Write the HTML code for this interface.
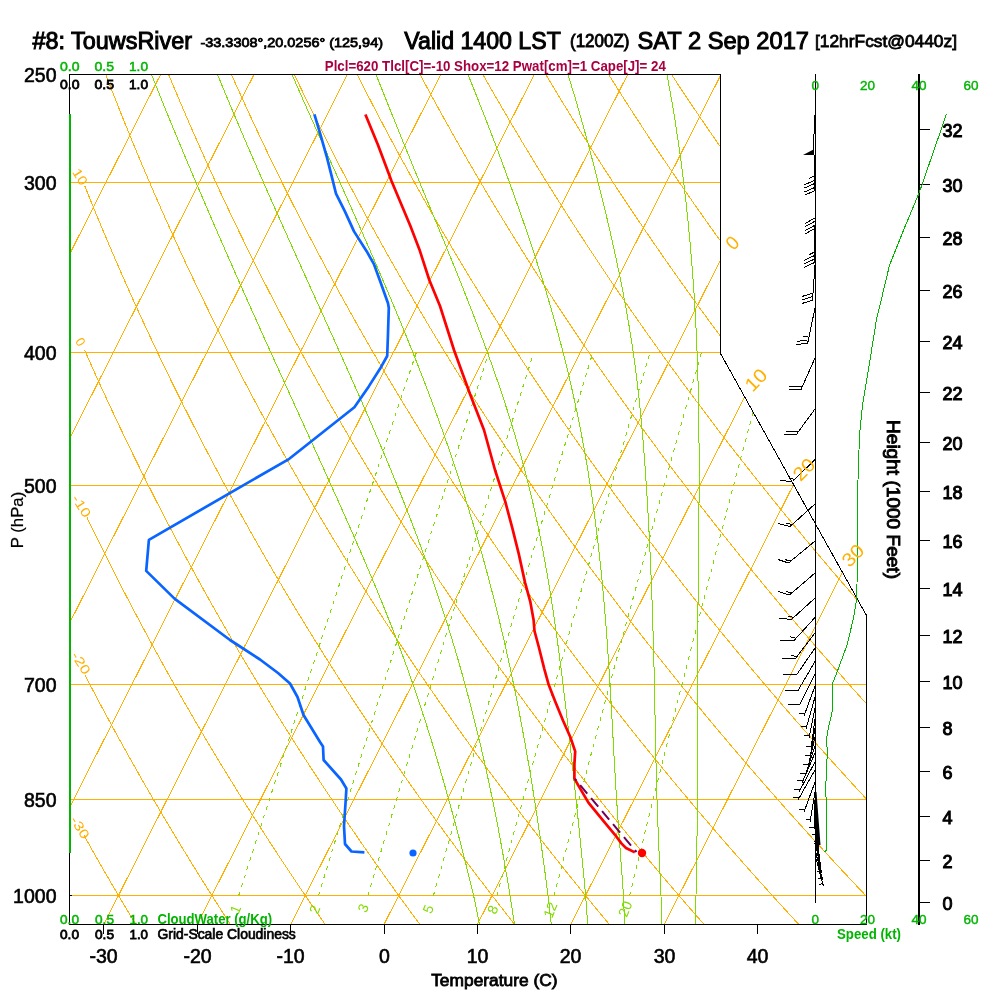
<!DOCTYPE html>
<html><head><meta charset="utf-8"><style>
html,body{margin:0;padding:0;background:#fff;}
body{width:1000px;height:1000px;overflow:hidden;position:relative;}
svg{position:absolute;left:0;top:0;will-change:transform;}
</style></head><body>
<svg width="1000" height="1000" viewBox="0 0 1000 1000" font-family="&quot;Liberation Sans&quot;, sans-serif">
<defs><clipPath id="cp"><path d="M70,75 H720 V353.5 L866,615.5 V924 H70 Z"/></clipPath></defs>
<g clip-path="url(#cp)" fill="none" stroke-width="1" shape-rendering="crispEdges">
<path d="M70,182.5 H870" stroke="#FFB000"/>
<path d="M70,352.5 H870" stroke="#FFB000"/>
<path d="M70,485.5 H870" stroke="#FFB000"/>
<path d="M70,684.5 H870" stroke="#FFB000"/>
<path d="M70,799.5 H870" stroke="#FFB000"/>
<path d="M70,895.5 H870" stroke="#FFB000"/>
<path d="M-736.86,924.5 L-306.42,74.5" stroke="#FFB000"/>
<path d="M-643.46,924.5 L-213.02,74.5" stroke="#FFB000"/>
<path d="M-550.05,924.5 L-119.61,74.5" stroke="#FFB000"/>
<path d="M-456.65,924.5 L-26.21,74.5" stroke="#FFB000"/>
<path d="M-363.24,924.5 L67.2,74.5" stroke="#FFB000"/>
<path d="M-269.84,924.5 L160.6,74.5" stroke="#FFB000"/>
<path d="M-176.43,924.5 L254.01,74.5" stroke="#FFB000"/>
<path d="M-83.03,924.5 L347.41,74.5" stroke="#FFB000"/>
<path d="M10.38,924.5 L440.82,74.5" stroke="#FFB000"/>
<path d="M103.78,924.5 L534.22,74.5" stroke="#FFB000"/>
<path d="M197.19,924.5 L627.63,74.5" stroke="#FFB000"/>
<path d="M290.6,924.5 L721.03,74.5" stroke="#FFB000"/>
<path d="M384,924.5 L814.44,74.5" stroke="#FFB000"/>
<path d="M477.4,924.5 L907.84,74.5" stroke="#FFB000"/>
<path d="M570.81,924.5 L1001.25,74.5" stroke="#FFB000"/>
<path d="M664.22,924.5 L1094.65,74.5" stroke="#FFB000"/>
<path d="M44.15,930.01 L42.57,927.21 L41,924.4 L39.42,921.57 L37.84,918.73 L36.26,915.88 L34.67,913.01 L33.08,910.13 L31.48,907.23 L29.88,904.32 L28.28,901.4 L26.67,898.46 L25.06,895.51 L23.45,892.54 L21.83,889.55 L20.21,886.55 L18.59,883.54 L16.96,880.51 L15.33,877.47 L13.69,874.41 L12.05,871.33 L10.41,868.24 L8.77,865.13 L7.11,862 L5.46,858.86 L3.8,855.7 L2.14,852.53 L0.47,849.33 L-1.2,846.12 L-2.87,842.9 L-4.55,839.65 L-6.23,836.39 L-7.92,833.11 L-9.61,829.81 L-11.3,826.49 L-13,823.15 L-14.7,819.8 L-16.41,816.42 L-18.12,813.03 L-19.83,809.62 L-21.55,806.18 L-23.27,802.73 L-25,799.26 L-26.73,795.76 L-28.47,792.25 L-30.21,788.71 L-31.95,785.16 L-33.7,781.58 L-35.46,777.98 L-37.22,774.35 L-38.98,770.71 L-40.75,767.04 L-42.52,763.35 L-44.29,759.64 L-46.07,755.9 L-47.86,752.14 L-49.65,748.36 L-51.45,744.55 L-53.25,740.72 L-55.05,736.86 L-56.86,732.98 L-58.67,729.07 L-60.49,725.13 L-62.31,721.17 L-64.14,717.18 L-65.98,713.17 L-67.82,709.12 L-69.66,705.05 L-71.51,700.96 L-73.36,696.83 L-75.22,692.67 L-77.08,688.49 L-78.95,684.27 L-80.83,680.03 L-82.71,675.75 L-84.59,671.44 L-86.48,667.1 L-88.37,662.73 L-90.27,658.33 L-92.18,653.89 L-94.09,649.42 L-96.01,644.92 L-97.93,640.38 L-99.86,635.81 L-101.79,631.2 L-103.73,626.56 L-105.67,621.87 L-107.62,617.15 L-109.58,612.4 L-111.54,607.6 L-113.51,602.77 L-115.48,597.89 L-117.46,592.98 L-119.44,588.02 L-121.43,583.03 L-123.43,577.98 L-125.43,572.9 L-127.44,567.77 L-129.45,562.6 L-131.48,557.38 L-133.5,552.12 L-135.53,546.81 L-137.57,541.45 L-139.62,536.04 L-141.67,530.58 L-143.73,525.07 L-145.79,519.51 L-147.86,513.9 L-149.93,508.23 L-152.02,502.51 L-154.11,496.73 L-156.2,490.9 L-158.3,485 L-160.41,479.05 L-162.53,473.04 L-164.65,466.96 L-166.78,460.83 L-168.91,454.63 L-171.05,448.36 L-173.2,442.02 L-175.35,435.62 L-177.51,429.15 L-179.68,422.6 L-181.85,415.99 L-184.03,409.3 L-186.22,402.53 L-188.42,395.68 L-190.62,388.75 L-192.82,381.75 L-195.04,374.65 L-197.26,367.47 L-199.49,360.21 L-201.72,352.85 L-203.96,345.4 L-206.21,337.86 L-208.46,330.21 L-210.72,322.47 L-212.99,314.63 L-215.26,306.68 L-217.54,298.62 L-219.82,290.45 L-222.12,282.17 L-224.41,273.77 L-226.72,265.25 L-229.03,256.6 L-231.34,247.83 L-233.66,238.92 L-235.99,229.88 L-238.32,220.7 L-240.66,211.37 L-243,201.9 L-245.35,192.27 L-247.7,182.48 L-250.05,172.52 L-252.41,162.4 L-254.77,152.1 L-257.14,141.62 L-259.51,130.95 L-261.88,120.08 L-264.25,109.01 L-266.63,97.73 L-269,86.23 L-271.38,74.5 L-273.76,62.54" stroke="#FFB000"/>
<path d="M139.12,930.01 L137.42,927.21 L135.72,924.4 L134.01,921.57 L132.3,918.73 L130.58,915.88 L128.86,913.01 L127.14,910.13 L125.41,907.23 L123.68,904.32 L121.95,901.4 L120.21,898.46 L118.47,895.51 L116.72,892.54 L114.97,889.55 L113.22,886.55 L111.46,883.54 L109.69,880.51 L107.92,877.47 L106.15,874.41 L104.38,871.33 L102.6,868.24 L100.81,865.13 L99.02,862 L97.23,858.86 L95.43,855.7 L93.63,852.53 L91.82,849.33 L90.01,846.12 L88.19,842.9 L86.37,839.65 L84.55,836.39 L84.11,835.6" stroke="#FFB000"/>
<path d="M234.09,930.01 L232.26,927.21 L230.43,924.4 L228.6,921.57 L226.76,918.73 L224.91,915.88 L223.06,913.01 L221.21,910.13 L219.35,907.23 L217.49,904.32 L215.62,901.4 L213.75,898.46 L211.87,895.51 L209.99,892.54 L208.11,889.55 L206.22,886.55 L204.32,883.54 L202.42,880.51 L200.52,877.47 L198.61,874.41 L196.7,871.33 L194.78,868.24 L192.86,865.13 L190.93,862 L189,858.86 L187.06,855.7 L185.12,852.53 L183.17,849.33 L181.22,846.12 L179.26,842.9 L177.3,839.65 L175.33,836.39 L173.36,833.11 L171.38,829.81 L169.39,826.49 L167.4,823.15 L165.41,819.8 L163.41,816.42 L161.41,813.03 L159.4,809.62 L157.38,806.18 L155.36,802.73 L153.33,799.26 L151.3,795.76 L149.26,792.25 L147.22,788.71 L145.17,785.16 L143.12,781.58 L141.06,777.98 L138.99,774.35 L136.92,770.71 L134.84,767.04 L132.75,763.35 L130.66,759.64 L128.57,755.9 L126.47,752.14 L124.36,748.36 L122.24,744.55 L120.12,740.72 L118,736.86 L115.86,732.98 L113.72,729.07 L111.58,725.13 L109.43,721.17 L107.27,717.18 L105.1,713.17 L102.93,709.12 L100.75,705.05 L98.57,700.96 L96.38,696.83 L94.18,692.67 L91.97,688.49 L89.76,684.27 L87.54,680.03 L85.31,675.75 L84.92,675" stroke="#FFB000"/>
<path d="M329.06,930.01 L327.11,927.21 L325.15,924.4 L323.18,921.57 L321.21,918.73 L319.24,915.88 L317.26,913.01 L315.27,910.13 L313.28,907.23 L311.29,904.32 L309.29,901.4 L307.29,898.46 L305.28,895.51 L303.26,892.54 L301.24,889.55 L299.22,886.55 L297.19,883.54 L295.16,880.51 L293.12,877.47 L291.07,874.41 L289.02,871.33 L286.96,868.24 L284.9,865.13 L282.84,862 L280.77,858.86 L278.69,855.7 L276.61,852.53 L274.52,849.33 L272.42,846.12 L270.32,842.9 L268.22,839.65 L266.11,836.39 L263.99,833.11 L261.87,829.81 L259.74,826.49 L257.61,823.15 L255.47,819.8 L253.32,816.42 L251.17,813.03 L249.01,809.62 L246.85,806.18 L244.68,802.73 L242.5,799.26 L240.32,795.76 L238.13,792.25 L235.93,788.71 L233.73,785.16 L231.53,781.58 L229.31,777.98 L227.09,774.35 L224.86,770.71 L222.63,767.04 L220.39,763.35 L218.14,759.64 L215.89,755.9 L213.63,752.14 L211.36,748.36 L209.09,744.55 L206.81,740.72 L204.52,736.86 L202.22,732.98 L199.92,729.07 L197.61,725.13 L195.3,721.17 L192.97,717.18 L190.64,713.17 L188.3,709.12 L185.96,705.05 L183.6,700.96 L181.24,696.83 L178.88,692.67 L176.5,688.49 L174.12,684.27 L171.72,680.03 L169.32,675.75 L166.92,671.44 L164.5,667.1 L162.08,662.73 L159.65,658.33 L157.21,653.89 L154.76,649.42 L152.3,644.92 L149.84,640.38 L147.36,635.81 L144.88,631.2 L142.39,626.56 L139.89,621.87 L137.38,617.15 L134.86,612.4 L132.34,607.6 L129.8,602.77 L127.26,597.89 L124.7,592.98 L122.14,588.02 L119.57,583.03 L116.99,577.98 L114.4,572.9 L111.8,567.77 L109.19,562.6 L106.57,557.38 L103.94,552.12 L101.3,546.81 L98.65,541.45 L95.99,536.04 L93.31,530.58 L90.63,525.07 L87.94,519.51 L86.97,517.5" stroke="#FFB000"/>
<path d="M424.04,930.01 L421.95,927.21 L419.86,924.4 L417.77,921.57 L415.67,918.73 L413.57,915.88 L411.46,913.01 L409.34,910.13 L407.22,907.23 L405.09,904.32 L402.96,901.4 L400.83,898.46 L398.68,895.51 L396.54,892.54 L394.38,889.55 L392.22,886.55 L390.06,883.54 L387.89,880.51 L385.71,877.47 L383.53,874.41 L381.34,871.33 L379.15,868.24 L376.95,865.13 L374.74,862 L372.53,858.86 L370.32,855.7 L368.09,852.53 L365.86,849.33 L363.63,846.12 L361.39,842.9 L359.14,839.65 L356.89,836.39 L354.63,833.11 L352.36,829.81 L350.09,826.49 L347.81,823.15 L345.52,819.8 L343.23,816.42 L340.93,813.03 L338.62,809.62 L336.31,806.18 L333.99,802.73 L331.67,799.26 L329.34,795.76 L327,792.25 L324.65,788.71 L322.3,785.16 L319.94,781.58 L317.57,777.98 L315.19,774.35 L312.81,770.71 L310.42,767.04 L308.03,763.35 L305.62,759.64 L303.21,755.9 L300.79,752.14 L298.37,748.36 L295.93,744.55 L293.49,740.72 L291.04,736.86 L288.59,732.98 L286.12,729.07 L283.65,725.13 L281.17,721.17 L278.68,717.18 L276.18,713.17 L273.68,709.12 L271.16,705.05 L268.64,700.96 L266.11,696.83 L263.57,692.67 L261.03,688.49 L258.47,684.27 L255.91,680.03 L253.33,675.75 L250.75,671.44 L248.16,667.1 L245.56,662.73 L242.95,658.33 L240.33,653.89 L237.71,649.42 L235.07,644.92 L232.42,640.38 L229.77,635.81 L227.1,631.2 L224.43,626.56 L221.74,621.87 L219.05,617.15 L216.34,612.4 L213.63,607.6 L210.91,602.77 L208.17,597.89 L205.43,592.98 L202.67,588.02 L199.9,583.03 L197.13,577.98 L194.34,572.9 L191.54,567.77 L188.73,562.6 L185.91,557.38 L183.08,552.12 L180.24,546.81 L177.38,541.45 L174.52,536.04 L171.64,530.58 L168.75,525.07 L165.85,519.51 L162.94,513.9 L160.02,508.23 L157.08,502.51 L154.13,496.73 L151.17,490.9 L148.19,485 L145.21,479.05 L142.21,473.04 L139.19,466.96 L136.17,460.83 L133.13,454.63 L130.08,448.36 L127.01,442.02 L123.93,435.62 L120.84,429.15 L117.73,422.6 L114.61,415.99 L111.47,409.3 L108.32,402.53 L105.15,395.68 L101.97,388.75 L98.78,381.75 L95.57,374.65 L92.34,367.47 L89.1,360.21 L85.85,352.85 L84.68,350.2" stroke="#FFB000"/>
<path d="M519.01,930.01 L516.8,927.21 L514.58,924.4 L512.36,921.57 L510.13,918.73 L507.89,915.88 L505.65,913.01 L503.41,910.13 L501.15,907.23 L498.9,904.32 L496.63,901.4 L494.36,898.46 L492.09,895.51 L489.81,892.54 L487.52,889.55 L485.23,886.55 L482.93,883.54 L480.62,880.51 L478.31,877.47 L475.99,874.41 L473.66,871.33 L471.33,868.24 L469,865.13 L466.65,862 L464.3,858.86 L461.95,855.7 L459.58,852.53 L457.21,849.33 L454.84,846.12 L452.45,842.9 L450.06,839.65 L447.66,836.39 L445.26,833.11 L442.85,829.81 L440.43,826.49 L438.01,823.15 L435.58,819.8 L433.14,816.42 L430.69,813.03 L428.24,809.62 L425.78,806.18 L423.31,802.73 L420.83,799.26 L418.35,795.76 L415.86,792.25 L413.36,788.71 L410.86,785.16 L408.35,781.58 L405.82,777.98 L403.3,774.35 L400.76,770.71 L398.22,767.04 L395.66,763.35 L393.1,759.64 L390.53,755.9 L387.96,752.14 L385.37,748.36 L382.78,744.55 L380.18,740.72 L377.57,736.86 L374.95,732.98 L372.32,729.07 L369.68,725.13 L367.04,721.17 L364.38,717.18 L361.72,713.17 L359.05,709.12 L356.37,705.05 L353.68,700.96 L350.98,696.83 L348.27,692.67 L345.55,688.49 L342.83,684.27 L340.09,680.03 L337.34,675.75 L334.59,671.44 L331.82,667.1 L329.04,662.73 L326.26,658.33 L323.46,653.89 L320.66,649.42 L317.84,644.92 L315.01,640.38 L312.17,635.81 L309.33,631.2 L306.47,626.56 L303.6,621.87 L300.72,617.15 L297.83,612.4 L294.92,607.6 L292.01,602.77 L289.08,597.89 L286.15,592.98 L283.2,588.02 L280.24,583.03 L277.27,577.98 L274.28,572.9 L271.29,567.77 L268.28,562.6 L265.26,557.38 L262.23,552.12 L259.18,546.81 L256.12,541.45 L253.05,536.04 L249.97,530.58 L246.87,525.07 L243.76,519.51 L240.64,513.9 L237.5,508.23 L234.35,502.51 L231.19,496.73 L228.01,490.9 L224.82,485 L221.61,479.05 L218.39,473.04 L215.15,466.96 L211.9,460.83 L208.64,454.63 L205.36,448.36 L202.06,442.02 L198.75,435.62 L195.42,429.15 L192.08,422.6 L188.72,415.99 L185.35,409.3 L181.96,402.53 L178.55,395.68 L175.12,388.75 L171.68,381.75 L168.22,374.65 L164.74,367.47 L161.25,360.21 L157.74,352.85 L154.21,345.4 L150.66,337.86 L147.09,330.21 L143.51,322.47 L139.9,314.63 L136.28,306.68 L132.64,298.62 L128.98,290.45 L125.29,282.17 L121.59,273.77 L117.87,265.25 L114.12,256.6 L110.36,247.83 L106.57,238.92 L102.77,229.88 L98.94,220.7 L95.09,211.37 L91.21,201.9 L87.32,192.27 L84.8,186" stroke="#FFB000"/>
<path d="M613.98,930.01 L611.64,927.21 L609.3,924.4 L606.94,921.57 L604.59,918.73 L602.22,915.88 L599.85,913.01 L597.47,910.13 L595.09,907.23 L592.7,904.32 L590.3,901.4 L587.9,898.46 L585.49,895.51 L583.08,892.54 L580.66,889.55 L578.23,886.55 L575.79,883.54 L573.35,880.51 L570.9,877.47 L568.45,874.41 L565.99,871.33 L563.52,868.24 L561.04,865.13 L558.56,862 L556.07,858.86 L553.57,855.7 L551.07,852.53 L548.56,849.33 L546.04,846.12 L543.52,842.9 L540.98,839.65 L538.44,836.39 L535.9,833.11 L533.34,829.81 L530.78,826.49 L528.21,823.15 L525.63,819.8 L523.05,816.42 L520.45,813.03 L517.85,809.62 L515.24,806.18 L512.63,802.73 L510,799.26 L507.37,795.76 L504.73,792.25 L502.08,788.71 L499.42,785.16 L496.76,781.58 L494.08,777.98 L491.4,774.35 L488.71,770.71 L486.01,767.04 L483.3,763.35 L480.58,759.64 L477.86,755.9 L475.12,752.14 L472.38,748.36 L469.62,744.55 L466.86,740.72 L464.09,736.86 L461.31,732.98 L458.52,729.07 L455.72,725.13 L452.91,721.17 L450.09,717.18 L447.26,713.17 L444.42,709.12 L441.58,705.05 L438.72,700.96 L435.85,696.83 L432.97,692.67 L430.08,688.49 L427.18,684.27 L424.27,680.03 L421.35,675.75 L418.42,671.44 L415.48,667.1 L412.53,662.73 L409.57,658.33 L406.59,653.89 L403.61,649.42 L400.61,644.92 L397.6,640.38 L394.58,635.81 L391.55,631.2 L388.51,626.56 L385.45,621.87 L382.39,617.15 L379.31,612.4 L376.22,607.6 L373.11,602.77 L370,597.89 L366.87,592.98 L363.73,588.02 L360.57,583.03 L357.41,577.98 L354.23,572.9 L351.03,567.77 L347.83,562.6 L344.61,557.38 L341.37,552.12 L338.13,546.81 L334.86,541.45 L331.59,536.04 L328.3,530.58 L324.99,525.07 L321.67,519.51 L318.34,513.9 L314.99,508.23 L311.63,502.51 L308.25,496.73 L304.85,490.9 L301.44,485 L298.02,479.05 L294.57,473.04 L291.11,466.96 L287.64,460.83 L284.15,454.63 L280.64,448.36 L277.11,442.02 L273.57,435.62 L270.01,429.15 L266.43,422.6 L262.84,415.99 L259.22,409.3 L255.59,402.53 L251.94,395.68 L248.27,388.75 L244.58,381.75 L240.87,374.65 L237.15,367.47 L233.4,360.21 L229.63,352.85 L225.84,345.4 L222.03,337.86 L218.21,330.21 L214.35,322.47 L210.48,314.63 L206.59,306.68 L202.67,298.62 L198.74,290.45 L194.77,282.17 L190.79,273.77 L186.78,265.25 L182.75,256.6 L178.7,247.83 L174.62,238.92 L170.52,229.88 L166.39,220.7 L162.23,211.37 L158.05,201.9 L153.85,192.27 L149.62,182.48 L145.36,172.52 L141.07,162.4 L136.76,152.1 L132.42,141.62 L128.05,130.95 L123.65,120.08 L119.23,109.01 L114.77,97.73 L110.28,86.23 L105.77,74.5 L101.22,62.54" stroke="#FFB000"/>
<path d="M708.96,930.01 L706.49,927.21 L704.01,924.4 L701.53,921.57 L699.04,918.73 L696.55,915.88 L694.05,913.01 L691.54,910.13 L689.02,907.23 L686.5,904.32 L683.97,901.4 L681.44,898.46 L678.9,895.51 L676.35,892.54 L673.79,889.55 L671.23,886.55 L668.66,883.54 L666.08,880.51 L663.5,877.47 L660.91,874.41 L658.31,871.33 L655.7,868.24 L653.09,865.13 L650.47,862 L647.84,858.86 L645.2,855.7 L642.56,852.53 L639.91,849.33 L637.25,846.12 L634.58,842.9 L631.91,839.65 L629.22,836.39 L626.53,833.11 L623.83,829.81 L621.13,826.49 L618.41,823.15 L615.69,819.8 L612.96,816.42 L610.21,813.03 L607.47,809.62 L604.71,806.18 L601.94,802.73 L599.17,799.26 L596.39,795.76 L593.59,792.25 L590.79,788.71 L587.98,785.16 L585.17,781.58 L582.34,777.98 L579.5,774.35 L576.66,770.71 L573.8,767.04 L570.94,763.35 L568.06,759.64 L565.18,755.9 L562.28,752.14 L559.38,748.36 L556.47,744.55 L553.55,740.72 L550.61,736.86 L547.67,732.98 L544.72,729.07 L541.75,725.13 L538.78,721.17 L535.8,717.18 L532.8,713.17 L529.8,709.12 L526.78,705.05 L523.75,700.96 L520.72,696.83 L517.67,692.67 L514.61,688.49 L511.54,684.27 L508.46,680.03 L505.36,675.75 L502.26,671.44 L499.14,667.1 L496.01,662.73 L492.87,658.33 L489.72,653.89 L486.56,649.42 L483.38,644.92 L480.19,640.38 L476.99,635.81 L473.77,631.2 L470.55,626.56 L467.31,621.87 L464.05,617.15 L460.79,612.4 L457.51,607.6 L454.22,602.77 L450.91,597.89 L447.59,592.98 L444.26,588.02 L440.91,583.03 L437.55,577.98 L434.17,572.9 L430.78,567.77 L427.37,562.6 L423.95,557.38 L420.52,552.12 L417.07,546.81 L413.6,541.45 L410.12,536.04 L406.63,530.58 L403.11,525.07 L399.58,519.51 L396.04,513.9 L392.48,508.23 L388.9,502.51 L385.31,496.73 L381.69,490.9 L378.07,485 L374.42,479.05 L370.76,473.04 L367.07,466.96 L363.37,460.83 L359.66,454.63 L355.92,448.36 L352.17,442.02 L348.39,435.62 L344.6,429.15 L340.78,422.6 L336.95,415.99 L333.1,409.3 L329.23,402.53 L325.33,395.68 L321.42,388.75 L317.48,381.75 L313.52,374.65 L309.55,367.47 L305.55,360.21 L301.52,352.85 L297.48,345.4 L293.41,337.86 L289.32,330.21 L285.2,322.47 L281.06,314.63 L276.9,306.68 L272.71,298.62 L268.49,290.45 L264.26,282.17 L259.99,273.77 L255.7,265.25 L251.38,256.6 L247.04,247.83 L242.67,238.92 L238.27,229.88 L233.84,220.7 L229.38,211.37 L224.9,201.9 L220.38,192.27 L215.84,182.48 L211.26,172.52 L206.65,162.4 L202.02,152.1 L197.35,141.62 L192.64,130.95 L187.91,120.08 L183.14,109.01 L178.34,97.73 L173.5,86.23 L168.63,74.5 L163.72,62.54" stroke="#FFB000"/>
<path d="M803.93,930.01 L801.33,927.21 L798.73,924.4 L796.12,921.57 L793.5,918.73 L790.88,915.88 L788.24,913.01 L785.61,910.13 L782.96,907.23 L780.31,904.32 L777.65,901.4 L774.98,898.46 L772.3,895.51 L769.62,892.54 L766.93,889.55 L764.23,886.55 L761.53,883.54 L758.82,880.51 L756.09,877.47 L753.37,874.41 L750.63,871.33 L747.89,868.24 L745.13,865.13 L742.37,862 L739.61,858.86 L736.83,855.7 L734.05,852.53 L731.25,849.33 L728.45,846.12 L725.64,842.9 L722.83,839.65 L720,836.39 L717.17,833.11 L714.32,829.81 L711.47,826.49 L708.61,823.15 L705.74,819.8 L702.86,816.42 L699.98,813.03 L697.08,809.62 L694.17,806.18 L691.26,802.73 L688.34,799.26 L685.4,795.76 L682.46,792.25 L679.51,788.71 L676.55,785.16 L673.58,781.58 L670.59,777.98 L667.6,774.35 L664.6,770.71 L661.59,767.04 L658.57,763.35 L655.54,759.64 L652.5,755.9 L649.45,752.14 L646.39,748.36 L643.31,744.55 L640.23,740.72 L637.14,736.86 L634.03,732.98 L630.92,729.07 L627.79,725.13 L624.65,721.17 L621.5,717.18 L618.34,713.17 L615.17,709.12 L611.99,705.05 L608.79,700.96 L605.59,696.83 L602.37,692.67 L599.14,688.49 L595.89,684.27 L592.64,680.03 L589.37,675.75 L586.09,671.44 L582.8,667.1 L579.5,662.73 L576.18,658.33 L572.85,653.89 L569.5,649.42 L566.15,644.92 L562.78,640.38 L559.39,635.81 L556,631.2 L552.59,626.56 L549.16,621.87 L545.72,617.15 L542.27,612.4 L538.8,607.6 L535.32,602.77 L531.82,597.89 L528.31,592.98 L524.78,588.02 L521.24,583.03 L517.69,577.98 L514.11,572.9 L510.52,567.77 L506.92,562.6 L503.3,557.38 L499.66,552.12 L496.01,546.81 L492.34,541.45 L488.66,536.04 L484.95,530.58 L481.23,525.07 L477.49,519.51 L473.74,513.9 L469.97,508.23 L466.17,502.51 L462.37,496.73 L458.54,490.9 L454.69,485 L450.82,479.05 L446.94,473.04 L443.03,466.96 L439.11,460.83 L435.17,454.63 L431.2,448.36 L427.22,442.02 L423.21,435.62 L419.18,429.15 L415.14,422.6 L411.07,415.99 L406.98,409.3 L402.86,402.53 L398.72,395.68 L394.57,388.75 L390.38,381.75 L386.18,374.65 L381.95,367.47 L377.69,360.21 L373.41,352.85 L369.11,345.4 L364.78,337.86 L360.43,330.21 L356.05,322.47 L351.64,314.63 L347.21,306.68 L342.74,298.62 L338.25,290.45 L333.74,282.17 L329.19,273.77 L324.62,265.25 L320.01,256.6 L315.38,247.83 L310.71,238.92 L306.02,229.88 L301.29,220.7 L296.53,211.37 L291.74,201.9 L286.91,192.27 L282.06,182.48 L277.16,172.52 L272.24,162.4 L267.27,152.1 L262.27,141.62 L257.24,130.95 L252.16,120.08 L247.05,109.01 L241.9,97.73 L236.71,86.23 L231.49,74.5 L226.22,62.54" stroke="#FFB000"/>
<path d="M898.9,930.01 L896.18,927.21 L893.44,924.4 L890.7,921.57 L887.96,918.73 L885.2,915.88 L882.44,913.01 L879.67,910.13 L876.89,907.23 L874.11,904.32 L871.32,901.4 L868.52,898.46 L865.71,895.51 L862.89,892.54 L860.07,889.55 L857.24,886.55 L854.4,883.54 L851.55,880.51 L848.69,877.47 L845.83,874.41 L842.95,871.33 L840.07,868.24 L837.18,865.13 L834.28,862 L831.38,858.86 L828.46,855.7 L825.54,852.53 L822.6,849.33 L819.66,846.12 L816.71,842.9 L813.75,839.65 L810.78,836.39 L807.8,833.11 L804.81,829.81 L801.82,826.49 L798.81,823.15 L795.8,819.8 L792.77,816.42 L789.74,813.03 L786.69,809.62 L783.64,806.18 L780.58,802.73 L777.5,799.26 L774.42,795.76 L771.33,792.25 L768.22,788.71 L765.11,785.16 L761.99,781.58 L758.85,777.98 L755.71,774.35 L752.55,770.71 L749.38,767.04 L746.21,763.35 L743.02,759.64 L739.82,755.9 L736.61,752.14 L733.39,748.36 L730.16,744.55 L726.91,740.72 L723.66,736.86 L720.39,732.98 L717.11,729.07 L713.82,725.13 L710.52,721.17 L707.21,717.18 L703.88,713.17 L700.54,709.12 L697.19,705.05 L693.83,700.96 L690.45,696.83 L687.07,692.67 L683.66,688.49 L680.25,684.27 L676.82,680.03 L673.38,675.75 L669.93,671.44 L666.46,667.1 L662.98,662.73 L659.49,658.33 L655.98,653.89 L652.45,649.42 L648.92,644.92 L645.37,640.38 L641.8,635.81 L638.22,631.2 L634.63,626.56 L631.02,621.87 L627.39,617.15 L623.75,612.4 L620.09,607.6 L616.42,602.77 L612.74,597.89 L609.03,592.98 L605.31,588.02 L601.58,583.03 L597.83,577.98 L594.06,572.9 L590.27,567.77 L586.47,562.6 L582.65,557.38 L578.81,552.12 L574.95,546.81 L571.08,541.45 L567.19,536.04 L563.28,530.58 L559.35,525.07 L555.41,519.51 L551.44,513.9 L547.45,508.23 L543.45,502.51 L539.42,496.73 L535.38,490.9 L531.31,485 L527.23,479.05 L523.12,473.04 L519,466.96 L514.85,460.83 L510.68,454.63 L506.48,448.36 L502.27,442.02 L498.03,435.62 L493.77,429.15 L489.49,422.6 L485.18,415.99 L480.85,409.3 L476.5,402.53 L472.12,395.68 L467.71,388.75 L463.28,381.75 L458.83,374.65 L454.35,367.47 L449.84,360.21 L445.31,352.85 L440.74,345.4 L436.15,337.86 L431.54,330.21 L426.89,322.47 L422.22,314.63 L417.51,306.68 L412.78,298.62 L408.01,290.45 L403.22,282.17 L398.39,273.77 L393.53,265.25 L388.64,256.6 L383.72,247.83 L378.76,238.92 L373.77,229.88 L368.74,220.7 L363.68,211.37 L358.58,201.9 L353.45,192.27 L348.28,182.48 L343.07,172.52 L337.82,162.4 L332.53,152.1 L327.2,141.62 L321.83,130.95 L316.42,120.08 L310.97,109.01 L305.47,97.73 L299.93,86.23 L294.34,74.5 L288.71,62.54" stroke="#FFB000"/>
<path d="M993.87,930.01 L991.02,927.21 L988.16,924.4 L985.29,921.57 L982.42,918.73 L979.53,915.88 L976.64,913.01 L973.74,910.13 L970.83,907.23 L967.91,904.32 L964.99,901.4 L962.05,898.46 L959.11,895.51 L956.16,892.54 L953.2,889.55 L950.24,886.55 L947.26,883.54 L944.28,880.51 L941.29,877.47 L938.28,874.41 L935.27,871.33 L932.26,868.24 L929.23,865.13 L926.19,862 L923.14,858.86 L920.09,855.7 L917.02,852.53 L913.95,849.33 L910.87,846.12 L907.77,842.9 L904.67,839.65 L901.56,836.39 L898.44,833.11 L895.31,829.81 L892.16,826.49 L889.01,823.15 L885.85,819.8 L882.68,816.42 L879.5,813.03 L876.31,809.62 L873.11,806.18 L869.89,802.73 L866.67,799.26 L863.44,795.76 L860.19,792.25 L856.94,788.71 L853.67,785.16 L850.4,781.58 L847.11,777.98 L843.81,774.35 L840.5,770.71 L837.18,767.04 L833.84,763.35 L830.5,759.64 L827.14,755.9 L823.77,752.14 L820.39,748.36 L817,744.55 L813.6,740.72 L810.18,736.86 L806.75,732.98 L803.31,729.07 L799.86,725.13 L796.39,721.17 L792.91,717.18 L789.42,713.17 L785.92,709.12 L782.4,705.05 L778.87,700.96 L775.32,696.83 L771.76,692.67 L768.19,688.49 L764.61,684.27 L761.01,680.03 L757.39,675.75 L753.76,671.44 L750.12,667.1 L746.46,662.73 L742.79,658.33 L739.11,653.89 L735.4,649.42 L731.69,644.92 L727.95,640.38 L724.21,635.81 L720.44,631.2 L716.66,626.56 L712.87,621.87 L709.06,617.15 L705.23,612.4 L701.39,607.6 L697.53,602.77 L693.65,597.89 L689.75,592.98 L685.84,588.02 L681.91,583.03 L677.96,577.98 L674,572.9 L670.02,567.77 L666.01,562.6 L661.99,557.38 L657.96,552.12 L653.9,546.81 L649.82,541.45 L645.72,536.04 L641.61,530.58 L637.47,525.07 L633.32,519.51 L629.14,513.9 L624.94,508.23 L620.72,502.51 L616.48,496.73 L612.22,490.9 L607.94,485 L603.63,479.05 L599.31,473.04 L594.96,466.96 L590.58,460.83 L586.19,454.63 L581.77,448.36 L577.32,442.02 L572.85,435.62 L568.36,429.15 L563.84,422.6 L559.3,415.99 L554.73,409.3 L550.13,402.53 L545.51,395.68 L540.86,388.75 L536.18,381.75 L531.48,374.65 L526.75,367.47 L521.99,360.21 L517.2,352.85 L512.38,345.4 L507.53,337.86 L502.65,330.21 L497.74,322.47 L492.8,314.63 L487.82,306.68 L482.81,298.62 L477.77,290.45 L472.7,282.17 L467.59,273.77 L462.45,265.25 L457.27,256.6 L452.06,247.83 L446.81,238.92 L441.52,229.88 L436.19,220.7 L430.83,211.37 L425.42,201.9 L419.98,192.27 L414.49,182.48 L408.97,172.52 L403.4,162.4 L397.78,152.1 L392.13,141.62 L386.42,130.95 L380.68,120.08 L374.88,109.01 L369.04,97.73 L363.14,86.23 L357.2,74.5 L351.21,62.54" stroke="#FFB000"/>
<path d="M1088.85,930.01 L1085.87,927.21 L1082.88,924.4 L1079.88,921.57 L1076.87,918.73 L1073.86,915.88 L1070.84,913.01 L1067.8,910.13 L1064.76,907.23 L1061.72,904.32 L1058.66,901.4 L1055.59,898.46 L1052.52,895.51 L1049.43,892.54 L1046.34,889.55 L1043.24,886.55 L1040.13,883.54 L1037.01,880.51 L1033.88,877.47 L1030.74,874.41 L1027.6,871.33 L1024.44,868.24 L1021.27,865.13 L1018.1,862 L1014.91,858.86 L1011.72,855.7 L1008.51,852.53 L1005.3,849.33 L1002.07,846.12 L998.84,842.9 L995.59,839.65 L992.34,836.39 L989.07,833.11 L985.8,829.81 L982.51,826.49 L979.21,823.15 L975.91,819.8 L972.59,816.42 L969.26,813.03 L965.92,809.62 L962.57,806.18 L959.21,802.73 L955.84,799.26 L952.45,795.76 L949.06,792.25 L945.65,788.71 L942.23,785.16 L938.81,781.58 L935.36,777.98 L931.91,774.35 L928.45,770.71 L924.97,767.04 L921.48,763.35 L917.98,759.64 L914.46,755.9 L910.94,752.14 L907.4,748.36 L903.85,744.55 L900.28,740.72 L896.7,736.86 L893.11,732.98 L889.51,729.07 L885.89,725.13 L882.26,721.17 L878.62,717.18 L874.96,713.17 L871.29,709.12 L867.6,705.05 L863.9,700.96 L860.19,696.83 L856.46,692.67 L852.72,688.49 L848.96,684.27 L845.19,680.03 L841.4,675.75 L837.6,671.44 L833.78,667.1 L829.95,662.73 L826.1,658.33 L822.23,653.89 L818.35,649.42 L814.46,644.92 L810.54,640.38 L806.61,635.81 L802.67,631.2 L798.7,626.56 L794.72,621.87 L790.73,617.15 L786.71,612.4 L782.68,607.6 L778.63,602.77 L774.56,597.89 L770.47,592.98 L766.37,588.02 L762.25,583.03 L758.1,577.98 L753.94,572.9 L749.76,567.77 L745.56,562.6 L741.34,557.38 L737.1,552.12 L732.84,546.81 L728.56,541.45 L724.26,536.04 L719.94,530.58 L715.59,525.07 L711.23,519.51 L706.84,513.9 L702.43,508.23 L698,502.51 L693.54,496.73 L689.06,490.9 L684.56,485 L680.04,479.05 L675.49,473.04 L670.92,466.96 L666.32,460.83 L661.69,454.63 L657.05,448.36 L652.37,442.02 L647.67,435.62 L642.95,429.15 L638.19,422.6 L633.41,415.99 L628.6,409.3 L623.77,402.53 L618.9,395.68 L614.01,388.75 L609.09,381.75 L604.13,374.65 L599.15,367.47 L594.13,360.21 L589.09,352.85 L584.01,345.4 L578.9,337.86 L573.76,330.21 L568.58,322.47 L563.37,314.63 L558.13,306.68 L552.85,298.62 L547.53,290.45 L542.18,282.17 L536.79,273.77 L531.37,265.25 L525.9,256.6 L520.4,247.83 L514.86,238.92 L509.27,229.88 L503.65,220.7 L497.98,211.37 L492.27,201.9 L486.51,192.27 L480.71,182.48 L474.87,172.52 L468.98,162.4 L463.04,152.1 L457.05,141.62 L451.02,130.95 L444.93,120.08 L438.79,109.01 L432.6,97.73 L426.36,86.23 L420.06,74.5 L413.7,62.54" stroke="#FFB000"/>
<path d="M1183.82,930.01 L1180.71,927.21 L1177.59,924.4 L1174.47,921.57 L1171.33,918.73 L1168.19,915.88 L1165.03,913.01 L1161.87,910.13 L1158.7,907.23 L1155.52,904.32 L1152.33,901.4 L1149.13,898.46 L1145.92,895.51 L1142.71,892.54 L1139.48,889.55 L1136.24,886.55 L1133,883.54 L1129.74,880.51 L1126.48,877.47 L1123.2,874.41 L1119.92,871.33 L1116.62,868.24 L1113.32,865.13 L1110,862 L1106.68,858.86 L1103.35,855.7 L1100,852.53 L1096.64,849.33 L1093.28,846.12 L1089.9,842.9 L1086.51,839.65 L1083.12,836.39 L1079.71,833.11 L1076.29,829.81 L1072.86,826.49 L1069.42,823.15 L1065.96,819.8 L1062.5,816.42 L1059.02,813.03 L1055.54,809.62 L1052.04,806.18 L1048.53,802.73 L1045.01,799.26 L1041.47,795.76 L1037.93,792.25 L1034.37,788.71 L1030.8,785.16 L1027.22,781.58 L1023.62,777.98 L1020.01,774.35 L1016.39,770.71 L1012.76,767.04 L1009.12,763.35 L1005.46,759.64 L1001.79,755.9 L998.1,752.14 L994.4,748.36 L990.69,744.55 L986.97,740.72 L983.23,736.86 L979.48,732.98 L975.71,729.07 L971.93,725.13 L968.13,721.17 L964.32,717.18 L960.5,713.17 L956.66,709.12 L952.81,705.05 L948.94,700.96 L945.06,696.83 L941.16,692.67 L937.25,688.49 L933.32,684.27 L929.37,680.03 L925.41,675.75 L921.43,671.44 L917.44,667.1 L913.43,662.73 L909.41,658.33 L905.36,653.89 L901.3,649.42 L897.23,644.92 L893.13,640.38 L889.02,635.81 L884.89,631.2 L880.74,626.56 L876.58,621.87 L872.39,617.15 L868.19,612.4 L863.97,607.6 L859.73,602.77 L855.47,597.89 L851.2,592.98 L846.9,588.02 L842.58,583.03 L838.24,577.98 L833.89,572.9 L829.51,567.77 L825.11,562.6 L820.69,557.38 L816.25,552.12 L811.78,546.81 L807.3,541.45 L802.79,536.04 L798.26,530.58 L793.71,525.07 L789.14,519.51 L784.54,513.9 L779.92,508.23 L775.27,502.51 L770.6,496.73 L765.91,490.9 L761.19,485 L756.44,479.05 L751.67,473.04 L746.88,466.96 L742.05,460.83 L737.2,454.63 L732.33,448.36 L727.42,442.02 L722.49,435.62 L717.53,429.15 L712.54,422.6 L707.53,415.99 L702.48,409.3 L697.4,402.53 L692.29,395.68 L687.16,388.75 L681.99,381.75 L676.78,374.65 L671.55,367.47 L666.28,360.21 L660.98,352.85 L655.65,345.4 L650.28,337.86 L644.87,330.21 L639.43,322.47 L633.95,314.63 L628.44,306.68 L622.89,298.62 L617.29,290.45 L611.66,282.17 L605.99,273.77 L600.28,265.25 L594.53,256.6 L588.74,247.83 L582.9,238.92 L577.02,229.88 L571.1,220.7 L565.13,211.37 L559.11,201.9 L553.05,192.27 L546.93,182.48 L540.77,172.52 L534.56,162.4 L528.3,152.1 L521.98,141.62 L515.61,130.95 L509.19,120.08 L502.71,109.01 L496.17,97.73 L489.57,86.23 L482.92,74.5 L476.2,62.54" stroke="#FFB000"/>
<path d="M1278.79,930.01 L1275.56,927.21 L1272.31,924.4 L1269.05,921.57 L1265.79,918.73 L1262.51,915.88 L1259.23,913.01 L1255.94,910.13 L1252.63,907.23 L1249.32,904.32 L1246,901.4 L1242.67,898.46 L1239.33,895.51 L1235.98,892.54 L1232.62,889.55 L1229.25,886.55 L1225.86,883.54 L1222.47,880.51 L1219.07,877.47 L1215.66,874.41 L1212.24,871.33 L1208.81,868.24 L1205.37,865.13 L1201.91,862 L1198.45,858.86 L1194.97,855.7 L1191.49,852.53 L1187.99,849.33 L1184.48,846.12 L1180.97,842.9 L1177.44,839.65 L1173.9,836.39 L1170.34,833.11 L1166.78,829.81 L1163.2,826.49 L1159.62,823.15 L1156.02,819.8 L1152.41,816.42 L1148.78,813.03 L1145.15,809.62 L1141.5,806.18 L1137.84,802.73 L1134.17,799.26 L1130.49,795.76 L1126.79,792.25 L1123.08,788.71 L1119.36,785.16 L1115.63,781.58 L1111.88,777.98 L1108.12,774.35 L1104.34,770.71 L1100.55,767.04 L1096.75,763.35 L1092.94,759.64 L1089.11,755.9 L1085.26,752.14 L1081.41,748.36 L1077.54,744.55 L1073.65,740.72 L1069.75,736.86 L1065.84,732.98 L1061.91,729.07 L1057.96,725.13 L1054,721.17 L1050.03,717.18 L1046.04,713.17 L1042.04,709.12 L1038.02,705.05 L1033.98,700.96 L1029.93,696.83 L1025.86,692.67 L1021.77,688.49 L1017.67,684.27 L1013.56,680.03 L1009.42,675.75 L1005.27,671.44 L1001.1,667.1 L996.92,662.73 L992.71,658.33 L988.49,653.89 L984.25,649.42 L980,644.92 L975.72,640.38 L971.43,635.81 L967.11,631.2 L962.78,626.56 L958.43,621.87 L954.06,617.15 L949.67,612.4 L945.27,607.6 L940.84,602.77 L936.39,597.89 L931.92,592.98 L927.43,588.02 L922.92,583.03 L918.38,577.98 L913.83,572.9 L909.25,567.77 L904.66,562.6 L900.04,557.38 L895.39,552.12 L890.73,546.81 L886.04,541.45 L881.33,536.04 L876.59,530.58 L871.83,525.07 L867.05,519.51 L862.24,513.9 L857.4,508.23 L852.54,502.51 L847.66,496.73 L842.75,490.9 L837.81,485 L832.85,479.05 L827.86,473.04 L822.84,466.96 L817.79,460.83 L812.71,454.63 L807.61,448.36 L802.48,442.02 L797.31,435.62 L792.12,429.15 L786.9,422.6 L781.64,415.99 L776.36,409.3 L771.04,402.53 L765.69,395.68 L760.3,388.75 L754.89,381.75 L749.44,374.65 L743.95,367.47 L738.43,360.21 L732.87,352.85 L727.28,345.4 L721.65,337.86 L715.98,330.21 L710.28,322.47 L704.53,314.63 L698.75,306.68 L692.92,298.62 L687.05,290.45 L681.15,282.17 L675.2,273.77 L669.2,265.25 L663.16,256.6 L657.08,247.83 L650.95,238.92 L644.77,229.88 L638.55,220.7 L632.27,211.37 L625.95,201.9 L619.58,192.27 L613.15,182.48 L606.67,172.52 L600.14,162.4 L593.55,152.1 L586.91,141.62 L580.2,130.95 L573.44,120.08 L566.62,109.01 L559.74,97.73 L552.79,86.23 L545.78,74.5 L538.7,62.54" stroke="#FFB000"/>
<path d="M1373.77,930.01 L1370.4,927.21 L1367.03,924.4 L1363.64,921.57 L1360.25,918.73 L1356.84,915.88 L1353.43,913.01 L1350,910.13 L1346.57,907.23 L1343.13,904.32 L1339.67,901.4 L1336.21,898.46 L1332.73,895.51 L1329.25,892.54 L1325.75,889.55 L1322.25,886.55 L1318.73,883.54 L1315.21,880.51 L1311.67,877.47 L1308.12,874.41 L1304.56,871.33 L1300.99,868.24 L1297.41,865.13 L1293.82,862 L1290.22,858.86 L1286.6,855.7 L1282.98,852.53 L1279.34,849.33 L1275.69,846.12 L1272.03,842.9 L1268.36,839.65 L1264.67,836.39 L1260.98,833.11 L1257.27,829.81 L1253.55,826.49 L1249.82,823.15 L1246.07,819.8 L1242.32,816.42 L1238.55,813.03 L1234.76,809.62 L1230.97,806.18 L1227.16,802.73 L1223.34,799.26 L1219.51,795.76 L1215.66,792.25 L1211.8,788.71 L1207.92,785.16 L1204.04,781.58 L1200.13,777.98 L1196.22,774.35 L1192.29,770.71 L1188.35,767.04 L1184.39,763.35 L1180.42,759.64 L1176.43,755.9 L1172.43,752.14 L1168.41,748.36 L1164.38,744.55 L1160.34,740.72 L1156.27,736.86 L1152.2,732.98 L1148.11,729.07 L1144,725.13 L1139.88,721.17 L1135.74,717.18 L1131.58,713.17 L1127.41,709.12 L1123.22,705.05 L1119.02,700.96 L1114.8,696.83 L1110.56,692.67 L1106.3,688.49 L1102.03,684.27 L1097.74,680.03 L1093.43,675.75 L1089.1,671.44 L1084.76,667.1 L1080.4,662.73 L1076.02,658.33 L1071.62,653.89 L1067.2,649.42 L1062.76,644.92 L1058.31,640.38 L1053.83,635.81 L1049.34,631.2 L1044.82,626.56 L1040.29,621.87 L1035.73,617.15 L1031.15,612.4 L1026.56,607.6 L1021.94,602.77 L1017.3,597.89 L1012.64,592.98 L1007.96,588.02 L1003.25,583.03 L998.52,577.98 L993.77,572.9 L989,567.77 L984.2,562.6 L979.38,557.38 L974.54,552.12 L969.67,546.81 L964.78,541.45 L959.86,536.04 L954.92,530.58 L949.95,525.07 L944.96,519.51 L939.94,513.9 L934.89,508.23 L929.82,502.51 L924.72,496.73 L919.59,490.9 L914.44,485 L909.25,479.05 L904.04,473.04 L898.8,466.96 L893.52,460.83 L888.22,454.63 L882.89,448.36 L877.53,442.02 L872.13,435.62 L866.71,429.15 L861.25,422.6 L855.76,415.99 L850.23,409.3 L844.67,402.53 L839.08,395.68 L833.45,388.75 L827.79,381.75 L822.09,374.65 L816.35,367.47 L810.58,360.21 L804.76,352.85 L798.91,345.4 L793.02,337.86 L787.09,330.21 L781.12,322.47 L775.11,314.63 L769.05,306.68 L762.96,298.62 L756.81,290.45 L750.63,282.17 L744.4,273.77 L738.12,265.25 L731.79,256.6 L725.42,247.83 L719,238.92 L712.52,229.88 L706,220.7 L699.42,211.37 L692.79,201.9 L686.11,192.27 L679.37,182.48 L672.58,172.52 L665.72,162.4 L658.81,152.1 L651.83,141.62 L644.8,130.95 L637.7,120.08 L630.53,109.01 L623.3,97.73 L616,86.23 L608.63,74.5 L601.19,62.54" stroke="#FFB000"/>
<path d="M1468.74,930.01 L1465.25,927.21 L1461.74,924.4 L1458.23,921.57 L1454.7,918.73 L1451.17,915.88 L1447.62,913.01 L1444.07,910.13 L1440.5,907.23 L1436.93,904.32 L1433.34,901.4 L1429.75,898.46 L1426.14,895.51 L1422.52,892.54 L1418.89,889.55 L1415.25,886.55 L1411.6,883.54 L1407.94,880.51 L1404.26,877.47 L1400.58,874.41 L1396.88,871.33 L1393.18,868.24 L1389.46,865.13 L1385.73,862 L1381.99,858.86 L1378.23,855.7 L1374.47,852.53 L1370.69,849.33 L1366.9,846.12 L1363.09,842.9 L1359.28,839.65 L1355.45,836.39 L1351.61,833.11 L1347.76,829.81 L1343.9,826.49 L1340.02,823.15 L1336.13,819.8 L1332.22,816.42 L1328.31,813.03 L1324.38,809.62 L1320.43,806.18 L1316.48,802.73 L1312.51,799.26 L1308.52,795.76 L1304.52,792.25 L1300.51,788.71 L1296.49,785.16 L1292.45,781.58 L1288.39,777.98 L1284.32,774.35 L1280.24,770.71 L1276.14,767.04 L1272.02,763.35 L1267.89,759.64 L1263.75,755.9 L1259.59,752.14 L1255.42,748.36 L1251.23,744.55 L1247.02,740.72 L1242.8,736.86 L1238.56,732.98 L1234.3,729.07 L1230.03,725.13 L1225.75,721.17 L1221.44,717.18 L1217.12,713.17 L1212.78,709.12 L1208.43,705.05 L1204.05,700.96 L1199.66,696.83 L1195.26,692.67 L1190.83,688.49 L1186.38,684.27 L1181.92,680.03 L1177.44,675.75 L1172.94,671.44 L1168.42,667.1 L1163.88,662.73 L1159.33,658.33 L1154.75,653.89 L1150.15,649.42 L1145.53,644.92 L1140.9,640.38 L1136.24,635.81 L1131.56,631.2 L1126.86,626.56 L1122.14,621.87 L1117.4,617.15 L1112.64,612.4 L1107.85,607.6 L1103.04,602.77 L1098.21,597.89 L1093.36,592.98 L1088.48,588.02 L1083.58,583.03 L1078.66,577.98 L1073.72,572.9 L1068.74,567.77 L1063.75,562.6 L1058.73,557.38 L1053.68,552.12 L1048.61,546.81 L1043.52,541.45 L1038.4,536.04 L1033.25,530.58 L1028.07,525.07 L1022.87,519.51 L1017.64,513.9 L1012.38,508.23 L1007.09,502.51 L1001.78,496.73 L996.43,490.9 L991.06,485 L985.66,479.05 L980.22,473.04 L974.76,466.96 L969.26,460.83 L963.73,454.63 L958.17,448.36 L952.58,442.02 L946.95,435.62 L941.29,429.15 L935.6,422.6 L929.87,415.99 L924.11,409.3 L918.31,402.53 L912.47,395.68 L906.6,388.75 L900.69,381.75 L894.74,374.65 L888.75,367.47 L882.72,360.21 L876.66,352.85 L870.55,345.4 L864.4,337.86 L858.2,330.21 L851.97,322.47 L845.69,314.63 L839.36,306.68 L832.99,298.62 L826.57,290.45 L820.11,282.17 L813.6,273.77 L807.03,265.25 L800.42,256.6 L793.76,247.83 L787.04,238.92 L780.27,229.88 L773.45,220.7 L766.57,211.37 L759.64,201.9 L752.64,192.27 L745.59,182.48 L738.48,172.52 L731.3,162.4 L724.06,152.1 L716.76,141.62 L709.39,130.95 L701.95,120.08 L694.45,109.01 L686.87,97.73 L679.22,86.23 L671.49,74.5 L663.69,62.54" stroke="#FFB000"/>
<path d="M1563.71,930.01 L1560.09,927.21 L1556.46,924.4 L1552.81,921.57 L1549.16,918.73 L1545.5,915.88 L1541.82,913.01 L1538.14,910.13 L1534.44,907.23 L1530.73,904.32 L1527.01,901.4 L1523.28,898.46 L1519.54,895.51 L1515.79,892.54 L1512.03,889.55 L1508.25,886.55 L1504.47,883.54 L1500.67,880.51 L1496.86,877.47 L1493.04,874.41 L1489.21,871.33 L1485.36,868.24 L1481.5,865.13 L1477.63,862 L1473.75,858.86 L1469.86,855.7 L1465.95,852.53 L1462.03,849.33 L1458.1,846.12 L1454.16,842.9 L1450.2,839.65 L1446.23,836.39 L1442.25,833.11 L1438.25,829.81 L1434.24,826.49 L1430.22,823.15 L1426.18,819.8 L1422.13,816.42 L1418.07,813.03 L1413.99,809.62 L1409.9,806.18 L1405.79,802.73 L1401.67,799.26 L1397.54,795.76 L1393.39,792.25 L1389.23,788.71 L1385.05,785.16 L1380.85,781.58 L1376.65,777.98 L1372.42,774.35 L1368.18,770.71 L1363.93,767.04 L1359.66,763.35 L1355.37,759.64 L1351.07,755.9 L1346.75,752.14 L1342.42,748.36 L1338.07,744.55 L1333.7,740.72 L1329.32,736.86 L1324.92,732.98 L1320.5,729.07 L1316.07,725.13 L1311.62,721.17 L1307.15,717.18 L1302.66,713.17 L1298.16,709.12 L1293.63,705.05 L1289.09,700.96 L1284.53,696.83 L1279.95,692.67 L1275.36,688.49 L1270.74,684.27 L1266.1,680.03 L1261.45,675.75 L1256.78,671.44 L1252.08,667.1 L1247.37,662.73 L1242.63,658.33 L1237.88,653.89 L1233.1,649.42 L1228.3,644.92 L1223.49,640.38 L1218.65,635.81 L1213.78,631.2 L1208.9,626.56 L1204,621.87 L1199.07,617.15 L1194.12,612.4 L1189.14,607.6 L1184.15,602.77 L1179.13,597.89 L1174.08,592.98 L1169.01,588.02 L1163.92,583.03 L1158.8,577.98 L1153.66,572.9 L1148.49,567.77 L1143.3,562.6 L1138.08,557.38 L1132.83,552.12 L1127.56,546.81 L1122.26,541.45 L1116.93,536.04 L1111.57,530.58 L1106.19,525.07 L1100.78,519.51 L1095.34,513.9 L1089.87,508.23 L1084.37,502.51 L1078.84,496.73 L1073.28,490.9 L1067.68,485 L1062.06,479.05 L1056.4,473.04 L1050.72,466.96 L1045,460.83 L1039.24,454.63 L1033.45,448.36 L1027.63,442.02 L1021.77,435.62 L1015.88,429.15 L1009.95,422.6 L1003.99,415.99 L997.98,409.3 L991.94,402.53 L985.87,395.68 L979.75,388.75 L973.59,381.75 L967.39,374.65 L961.15,367.47 L954.87,360.21 L948.55,352.85 L942.18,345.4 L935.77,337.86 L929.31,330.21 L922.81,322.47 L916.27,314.63 L909.67,306.68 L903.03,298.62 L896.33,290.45 L889.59,282.17 L882.8,273.77 L875.95,265.25 L869.05,256.6 L862.1,247.83 L855.09,238.92 L848.03,229.88 L840.9,220.7 L833.72,211.37 L826.48,201.9 L819.18,192.27 L811.81,182.48 L804.38,172.52 L796.88,162.4 L789.32,152.1 L781.69,141.62 L773.98,130.95 L766.21,120.08 L758.36,109.01 L750.44,97.73 L742.43,86.23 L734.35,74.5 L726.19,62.54" stroke="#FFB000"/>
<path d="M1658.69,930.01 L1654.93,927.21 L1651.17,924.4 L1647.4,921.57 L1643.62,918.73 L1639.82,915.88 L1636.02,913.01 L1632.2,910.13 L1628.37,907.23 L1624.53,904.32 L1620.68,901.4 L1616.82,898.46 L1612.95,895.51 L1609.06,892.54 L1605.17,889.55 L1601.26,886.55 L1597.33,883.54 L1593.4,880.51 L1589.46,877.47 L1585.5,874.41 L1581.53,871.33 L1577.55,868.24 L1573.55,865.13 L1569.54,862 L1565.52,858.86 L1561.49,855.7 L1557.44,852.53 L1553.38,849.33 L1549.31,846.12 L1545.22,842.9 L1541.12,839.65 L1537.01,836.39 L1532.88,833.11 L1528.74,829.81 L1524.59,826.49 L1520.42,823.15 L1516.24,819.8 L1512.04,816.42 L1507.83,813.03 L1503.61,809.62 L1499.37,806.18 L1495.11,802.73 L1490.84,799.26 L1486.56,795.76 L1482.26,792.25 L1477.94,788.71 L1473.61,785.16 L1469.26,781.58 L1464.9,777.98 L1460.53,774.35 L1456.13,770.71 L1451.72,767.04 L1447.3,763.35 L1442.85,759.64 L1438.39,755.9 L1433.92,752.14 L1429.43,748.36 L1424.92,744.55 L1420.39,740.72 L1415.84,736.86 L1411.28,732.98 L1406.7,729.07 L1402.1,725.13 L1397.49,721.17 L1392.85,717.18 L1388.2,713.17 L1383.53,709.12 L1378.84,705.05 L1374.13,700.96 L1369.4,696.83 L1364.65,692.67 L1359.88,688.49 L1355.1,684.27 L1350.29,680.03 L1345.46,675.75 L1340.61,671.44 L1335.74,667.1 L1330.85,662.73 L1325.94,658.33 L1321.01,653.89 L1316.05,649.42 L1311.07,644.92 L1306.07,640.38 L1301.05,635.81 L1296.01,631.2 L1290.94,626.56 L1285.85,621.87 L1280.74,617.15 L1275.6,612.4 L1270.44,607.6 L1265.25,602.77 L1260.04,597.89 L1254.8,592.98 L1249.54,588.02 L1244.25,583.03 L1238.94,577.98 L1233.6,572.9 L1228.24,567.77 L1222.84,562.6 L1217.42,557.38 L1211.98,552.12 L1206.5,546.81 L1201,541.45 L1195.46,536.04 L1189.9,530.58 L1184.31,525.07 L1178.69,519.51 L1173.04,513.9 L1167.35,508.23 L1161.64,502.51 L1155.9,496.73 L1150.12,490.9 L1144.31,485 L1138.46,479.05 L1132.59,473.04 L1126.68,466.96 L1120.73,460.83 L1114.75,454.63 L1108.74,448.36 L1102.68,442.02 L1096.6,435.62 L1090.47,429.15 L1084.3,422.6 L1078.1,415.99 L1071.86,409.3 L1065.58,402.53 L1059.26,395.68 L1052.89,388.75 L1046.49,381.75 L1040.04,374.65 L1033.55,367.47 L1027.02,360.21 L1020.44,352.85 L1013.81,345.4 L1007.14,337.86 L1000.43,330.21 L993.66,322.47 L986.84,314.63 L979.98,306.68 L973.06,298.62 L966.09,290.45 L959.07,282.17 L952,273.77 L944.87,265.25 L937.68,256.6 L930.44,247.83 L923.14,238.92 L915.78,229.88 L908.35,220.7 L900.87,211.37 L893.32,201.9 L885.71,192.27 L878.03,182.48 L870.28,172.52 L862.46,162.4 L854.58,152.1 L846.61,141.62 L838.58,130.95 L830.46,120.08 L822.27,109.01 L814,97.73 L805.65,86.23 L797.21,74.5 L788.68,62.54" stroke="#FFB000"/>
<path d="M1753.66,930.01 L1749.78,927.21 L1745.89,924.4 L1741.99,921.57 L1738.08,918.73 L1734.15,915.88 L1730.22,913.01 L1726.27,910.13 L1722.31,907.23 L1718.34,904.32 L1714.35,901.4 L1710.36,898.46 L1706.35,895.51 L1702.33,892.54 L1698.3,889.55 L1694.26,886.55 L1690.2,883.54 L1686.13,880.51 L1682.05,877.47 L1677.96,874.41 L1673.85,871.33 L1669.73,868.24 L1665.6,865.13 L1661.45,862 L1657.29,858.86 L1653.12,855.7 L1648.93,852.53 L1644.73,849.33 L1640.52,846.12 L1636.29,842.9 L1632.05,839.65 L1627.79,836.39 L1623.52,833.11 L1619.24,829.81 L1614.94,826.49 L1610.62,823.15 L1606.29,819.8 L1601.95,816.42 L1597.59,813.03 L1593.22,809.62 L1588.83,806.18 L1584.43,802.73 L1580.01,799.26 L1575.57,795.76 L1571.12,792.25 L1566.66,788.71 L1562.17,785.16 L1557.67,781.58 L1553.16,777.98 L1548.63,774.35 L1544.08,770.71 L1539.51,767.04 L1534.93,763.35 L1530.33,759.64 L1525.72,755.9 L1521.08,752.14 L1516.43,748.36 L1511.76,744.55 L1507.07,740.72 L1502.37,736.86 L1497.64,732.98 L1492.9,729.07 L1488.14,725.13 L1483.36,721.17 L1478.56,717.18 L1473.74,713.17 L1468.9,709.12 L1464.04,705.05 L1459.17,700.96 L1454.27,696.83 L1449.35,692.67 L1444.41,688.49 L1439.45,684.27 L1434.47,680.03 L1429.47,675.75 L1424.45,671.44 L1419.4,667.1 L1414.33,662.73 L1409.25,658.33 L1404.13,653.89 L1399,649.42 L1393.84,644.92 L1388.66,640.38 L1383.46,635.81 L1378.23,631.2 L1372.98,626.56 L1367.7,621.87 L1362.4,617.15 L1357.08,612.4 L1351.73,607.6 L1346.35,602.77 L1340.95,597.89 L1335.52,592.98 L1330.07,588.02 L1324.59,583.03 L1319.08,577.98 L1313.55,572.9 L1307.98,567.77 L1302.39,562.6 L1296.77,557.38 L1291.12,552.12 L1285.44,546.81 L1279.74,541.45 L1274,536.04 L1268.23,530.58 L1262.43,525.07 L1256.6,519.51 L1250.74,513.9 L1244.84,508.23 L1238.91,502.51 L1232.95,496.73 L1226.96,490.9 L1220.93,485 L1214.87,479.05 L1208.77,473.04 L1202.64,466.96 L1196.47,460.83 L1190.26,454.63 L1184.02,448.36 L1177.74,442.02 L1171.42,435.62 L1165.06,429.15 L1158.66,422.6 L1152.22,415.99 L1145.74,409.3 L1139.21,402.53 L1132.65,395.68 L1126.04,388.75 L1119.39,381.75 L1112.69,374.65 L1105.95,367.47 L1099.17,360.21 L1092.33,352.85 L1085.45,345.4 L1078.52,337.86 L1071.54,330.21 L1064.5,322.47 L1057.42,314.63 L1050.29,306.68 L1043.1,298.62 L1035.85,290.45 L1028.55,282.17 L1021.2,273.77 L1013.79,265.25 L1006.31,256.6 L998.78,247.83 L991.18,238.92 L983.53,229.88 L975.81,220.7 L968.02,211.37 L960.16,201.9 L952.24,192.27 L944.25,182.48 L936.18,172.52 L928.04,162.4 L919.83,152.1 L911.54,141.62 L903.17,130.95 L894.72,120.08 L886.19,109.01 L877.57,97.73 L868.86,86.23 L860.07,74.5 L851.18,62.54" stroke="#FFB000"/>
<path d="M1848.63,930.01 L1844.62,927.21 L1840.61,924.4 L1836.58,921.57 L1832.53,918.73 L1828.48,915.88 L1824.41,913.01 L1820.33,910.13 L1816.24,907.23 L1812.14,904.32 L1808.03,901.4 L1803.9,898.46 L1799.76,895.51 L1795.61,892.54 L1791.44,889.55 L1787.26,886.55 L1783.07,883.54 L1778.86,880.51 L1774.65,877.47 L1770.42,874.41 L1766.17,871.33 L1761.91,868.24 L1757.64,865.13 L1753.36,862 L1749.06,858.86 L1744.75,855.7 L1740.42,852.53 L1736.08,849.33 L1731.72,846.12 L1727.35,842.9 L1722.97,839.65 L1718.57,836.39 L1714.15,833.11 L1709.73,829.81 L1705.28,826.49 L1700.82,823.15 L1696.35,819.8 L1691.86,816.42 L1687.35,813.03 L1682.83,809.62 L1678.3,806.18 L1673.74,802.73 L1669.18,799.26 L1664.59,795.76 L1659.99,792.25 L1655.37,788.71 L1650.74,785.16 L1646.08,781.58 L1641.42,777.98 L1636.73,774.35 L1632.03,770.71 L1627.31,767.04 L1622.57,763.35 L1617.81,759.64 L1613.04,755.9 L1608.25,752.14 L1603.43,748.36 L1598.61,744.55 L1593.76,740.72 L1588.89,736.86 L1584,732.98 L1579.1,729.07 L1574.17,725.13 L1569.23,721.17 L1564.26,717.18 L1559.28,713.17 L1554.28,709.12 L1549.25,705.05 L1544.2,700.96 L1539.14,696.83 L1534.05,692.67 L1528.94,688.49 L1523.81,684.27 L1518.65,680.03 L1513.48,675.75 L1508.28,671.44 L1503.06,667.1 L1497.82,662.73 L1492.55,658.33 L1487.26,653.89 L1481.95,649.42 L1476.61,644.92 L1471.25,640.38 L1465.87,635.81 L1460.45,631.2 L1455.02,626.56 L1449.56,621.87 L1444.07,617.15 L1438.56,612.4 L1433.02,607.6 L1427.46,602.77 L1421.86,597.89 L1416.24,592.98 L1410.6,588.02 L1404.92,583.03 L1399.22,577.98 L1393.49,572.9 L1387.73,567.77 L1381.94,562.6 L1376.12,557.38 L1370.27,552.12 L1364.39,546.81 L1358.47,541.45 L1352.53,536.04 L1346.56,530.58 L1340.55,525.07 L1334.51,519.51 L1328.44,513.9 L1322.33,508.23 L1316.19,502.51 L1310.01,496.73 L1303.8,490.9 L1297.56,485 L1291.27,479.05 L1284.95,473.04 L1278.6,466.96 L1272.2,460.83 L1265.77,454.63 L1259.3,448.36 L1252.79,442.02 L1246.24,435.62 L1239.64,429.15 L1233.01,422.6 L1226.33,415.99 L1219.61,409.3 L1212.85,402.53 L1206.04,395.68 L1199.19,388.75 L1192.29,381.75 L1185.35,374.65 L1178.35,367.47 L1171.31,360.21 L1164.22,352.85 L1157.08,345.4 L1149.89,337.86 L1142.65,330.21 L1135.35,322.47 L1128,314.63 L1120.59,306.68 L1113.13,298.62 L1105.61,290.45 L1098.04,282.17 L1090.4,273.77 L1082.7,265.25 L1074.94,256.6 L1067.12,247.83 L1059.23,238.92 L1051.28,229.88 L1043.26,220.7 L1035.17,211.37 L1027.01,201.9 L1018.77,192.27 L1010.47,182.48 L1002.08,172.52 L993.63,162.4 L985.09,152.1 L976.47,141.62 L967.76,130.95 L958.98,120.08 L950.1,109.01 L941.13,97.73 L932.08,86.23 L922.92,74.5 L913.68,62.54" stroke="#FFB000"/>
<path d="M1943.6,930.01 L1939.47,927.21 L1935.32,924.4 L1931.16,921.57 L1926.99,918.73 L1922.81,915.88 L1918.61,913.01 L1914.4,910.13 L1910.18,907.23 L1905.94,904.32 L1901.7,901.4 L1897.44,898.46 L1893.16,895.51 L1888.88,892.54 L1884.58,889.55 L1880.26,886.55 L1875.94,883.54 L1871.6,880.51 L1867.24,877.47 L1862.88,874.41 L1858.49,871.33 L1854.1,868.24 L1849.69,865.13 L1845.26,862 L1840.83,858.86 L1836.37,855.7 L1831.91,852.53 L1827.42,849.33 L1822.93,846.12 L1818.42,842.9 L1813.89,839.65 L1809.35,836.39 L1804.79,833.11 L1800.22,829.81 L1795.63,826.49 L1791.02,823.15 L1786.4,819.8 L1781.77,816.42 L1777.12,813.03 L1772.45,809.62 L1767.76,806.18 L1763.06,802.73 L1758.34,799.26 L1753.61,795.76 L1748.86,792.25 L1744.09,788.71 L1739.3,785.16 L1734.49,781.58 L1729.67,777.98 L1724.83,774.35 L1719.97,770.71 L1715.1,767.04 L1710.2,763.35 L1705.29,759.64 L1700.36,755.9 L1695.41,752.14 L1690.44,748.36 L1685.45,744.55 L1680.44,740.72 L1675.41,736.86 L1670.37,732.98 L1665.3,729.07 L1660.21,725.13 L1655.1,721.17 L1649.97,717.18 L1644.82,713.17 L1639.65,709.12 L1634.46,705.05 L1629.24,700.96 L1624,696.83 L1618.75,692.67 L1613.47,688.49 L1608.16,684.27 L1602.84,680.03 L1597.49,675.75 L1592.12,671.44 L1586.72,667.1 L1581.3,662.73 L1575.86,658.33 L1570.39,653.89 L1564.9,649.42 L1559.38,644.92 L1553.84,640.38 L1548.27,635.81 L1542.68,631.2 L1537.06,626.56 L1531.41,621.87 L1525.74,617.15 L1520.04,612.4 L1514.31,607.6 L1508.56,602.77 L1502.78,597.89 L1496.97,592.98 L1491.13,588.02 L1485.26,583.03 L1479.36,577.98 L1473.43,572.9 L1467.47,567.77 L1461.48,562.6 L1455.46,557.38 L1449.41,552.12 L1443.33,546.81 L1437.21,541.45 L1431.07,536.04 L1424.88,530.58 L1418.67,525.07 L1412.42,519.51 L1406.14,513.9 L1399.82,508.23 L1393.46,502.51 L1387.07,496.73 L1380.64,490.9 L1374.18,485 L1367.68,479.05 L1361.14,473.04 L1354.56,466.96 L1347.94,460.83 L1341.28,454.63 L1334.58,448.36 L1327.84,442.02 L1321.06,435.62 L1314.23,429.15 L1307.36,422.6 L1300.45,415.99 L1293.49,409.3 L1286.49,402.53 L1279.44,395.68 L1272.34,388.75 L1265.19,381.75 L1258,374.65 L1250.75,367.47 L1243.46,360.21 L1236.11,352.85 L1228.72,345.4 L1221.26,337.86 L1213.76,330.21 L1206.2,322.47 L1198.58,314.63 L1190.9,306.68 L1183.17,298.62 L1175.37,290.45 L1167.52,282.17 L1159.6,273.77 L1151.62,265.25 L1143.57,256.6 L1135.46,247.83 L1127.28,238.92 L1119.03,229.88 L1110.71,220.7 L1102.32,211.37 L1093.85,201.9 L1085.31,192.27 L1076.69,182.48 L1067.99,172.52 L1059.21,162.4 L1050.34,152.1 L1041.39,141.62 L1032.36,130.95 L1023.23,120.08 L1014.01,109.01 L1004.7,97.73 L995.29,86.23 L985.78,74.5 L976.17,62.54" stroke="#FFB000"/>
<path d="M2038.58,930.01 L2034.31,927.21 L2030.04,924.4 L2025.75,921.57 L2021.45,918.73 L2017.13,915.88 L2012.81,913.01 L2008.47,910.13 L2004.11,907.23 L1999.75,904.32 L1995.37,901.4 L1990.97,898.46 L1986.57,895.51 L1982.15,892.54 L1977.71,889.55 L1973.27,886.55 L1968.8,883.54 L1964.33,880.51 L1959.84,877.47 L1955.33,874.41 L1950.82,871.33 L1946.28,868.24 L1941.73,865.13 L1937.17,862 L1932.6,858.86 L1928,855.7 L1923.4,852.53 L1918.77,849.33 L1914.13,846.12 L1909.48,842.9 L1904.81,839.65 L1900.13,836.39 L1895.43,833.11 L1890.71,829.81 L1885.98,826.49 L1881.23,823.15 L1876.46,819.8 L1871.68,816.42 L1866.88,813.03 L1862.06,809.62 L1857.23,806.18 L1852.38,802.73 L1847.51,799.26 L1842.62,795.76 L1837.72,792.25 L1832.8,788.71 L1827.86,785.16 L1822.9,781.58 L1817.93,777.98 L1812.94,774.35 L1807.92,770.71 L1802.89,767.04 L1797.84,763.35 L1792.77,759.64 L1787.68,755.9 L1782.57,752.14 L1777.44,748.36 L1772.29,744.55 L1767.13,740.72 L1761.94,736.86 L1756.73,732.98 L1751.5,729.07 L1746.24,725.13 L1740.97,721.17 L1735.68,717.18 L1730.36,713.17 L1725.02,709.12 L1719.66,705.05 L1714.28,700.96 L1708.87,696.83 L1703.44,692.67 L1697.99,688.49 L1692.52,684.27 L1687.02,680.03 L1681.5,675.75 L1675.95,671.44 L1670.38,667.1 L1664.79,662.73 L1659.17,658.33 L1653.52,653.89 L1647.85,649.42 L1642.15,644.92 L1636.43,640.38 L1630.68,635.81 L1624.9,631.2 L1619.1,626.56 L1613.27,621.87 L1607.41,617.15 L1601.52,612.4 L1595.61,607.6 L1589.66,602.77 L1583.69,597.89 L1577.69,592.98 L1571.65,588.02 L1565.59,583.03 L1559.5,577.98 L1553.37,572.9 L1547.22,567.77 L1541.03,562.6 L1534.81,557.38 L1528.56,552.12 L1522.27,546.81 L1515.95,541.45 L1509.6,536.04 L1503.21,530.58 L1496.79,525.07 L1490.33,519.51 L1483.84,513.9 L1477.3,508.23 L1470.74,502.51 L1464.13,496.73 L1457.49,490.9 L1450.8,485 L1444.08,479.05 L1437.32,473.04 L1430.52,466.96 L1423.68,460.83 L1416.79,454.63 L1409.86,448.36 L1402.89,442.02 L1395.88,435.62 L1388.82,429.15 L1381.71,422.6 L1374.56,415.99 L1367.37,409.3 L1360.12,402.53 L1352.83,395.68 L1345.49,388.75 L1338.09,381.75 L1330.65,374.65 L1323.16,367.47 L1315.61,360.21 L1308.01,352.85 L1300.35,345.4 L1292.64,337.86 L1284.87,330.21 L1277.04,322.47 L1269.16,314.63 L1261.21,306.68 L1253.2,298.62 L1245.13,290.45 L1237,282.17 L1228.8,273.77 L1220.54,265.25 L1212.2,256.6 L1203.8,247.83 L1195.33,238.92 L1186.78,229.88 L1178.16,220.7 L1169.46,211.37 L1160.69,201.9 L1151.84,192.27 L1142.91,182.48 L1133.89,172.52 L1124.79,162.4 L1115.6,152.1 L1106.32,141.62 L1096.95,130.95 L1087.49,120.08 L1077.93,109.01 L1068.27,97.73 L1058.51,86.23 L1048.64,74.5 L1038.67,62.54" stroke="#FFB000"/>
<path d="M2133.55,930.01 L2129.16,927.21 L2124.75,924.4 L2120.34,921.57 L2115.91,918.73 L2111.46,915.88 L2107,913.01 L2102.53,910.13 L2098.05,907.23 L2093.55,904.32 L2089.04,901.4 L2084.51,898.46 L2079.97,895.51 L2075.42,892.54 L2070.85,889.55 L2066.27,886.55 L2061.67,883.54 L2057.06,880.51 L2052.43,877.47 L2047.79,874.41 L2043.14,871.33 L2038.47,868.24 L2033.78,865.13 L2029.08,862 L2024.36,858.86 L2019.63,855.7 L2014.88,852.53 L2010.12,849.33 L2005.34,846.12 L2000.54,842.9 L1995.73,839.65 L1990.91,836.39 L1986.06,833.11 L1981.2,829.81 L1976.32,826.49 L1971.43,823.15 L1966.52,819.8 L1961.59,816.42 L1956.64,813.03 L1951.68,809.62 L1946.69,806.18 L1941.69,802.73 L1936.68,799.26 L1931.64,795.76 L1926.59,792.25 L1921.52,788.71 L1916.42,785.16 L1911.31,781.58 L1906.19,777.98 L1901.04,774.35 L1895.87,770.71 L1890.68,767.04 L1885.48,763.35 L1880.25,759.64 L1875,755.9 L1869.74,752.14 L1864.45,748.36 L1859.14,744.55 L1853.81,740.72 L1848.46,736.86 L1843.09,732.98 L1837.69,729.07 L1832.28,725.13 L1826.84,721.17 L1821.38,717.18 L1815.9,713.17 L1810.39,709.12 L1804.87,705.05 L1799.32,700.96 L1793.74,696.83 L1788.14,692.67 L1782.52,688.49 L1776.87,684.27 L1771.2,680.03 L1765.51,675.75 L1759.79,671.44 L1754.04,667.1 L1748.27,662.73 L1742.47,658.33 L1736.65,653.89 L1730.8,649.42 L1724.92,644.92 L1719.02,640.38 L1713.08,635.81 L1707.13,631.2 L1701.14,626.56 L1695.12,621.87 L1689.08,617.15 L1683,612.4 L1676.9,607.6 L1670.77,602.77 L1664.6,597.89 L1658.41,592.98 L1652.18,588.02 L1645.93,583.03 L1639.64,577.98 L1633.32,572.9 L1626.96,567.77 L1620.58,562.6 L1614.16,557.38 L1607.7,552.12 L1601.22,546.81 L1594.69,541.45 L1588.13,536.04 L1581.54,530.58 L1574.91,525.07 L1568.24,519.51 L1561.54,513.9 L1554.79,508.23 L1548.01,502.51 L1541.19,496.73 L1534.33,490.9 L1527.43,485 L1520.49,479.05 L1513.5,473.04 L1506.48,466.96 L1499.41,460.83 L1492.3,454.63 L1485.14,448.36 L1477.94,442.02 L1470.7,435.62 L1463.4,429.15 L1456.07,422.6 L1448.68,415.99 L1441.24,409.3 L1433.76,402.53 L1426.22,395.68 L1418.63,388.75 L1410.99,381.75 L1403.3,374.65 L1395.56,367.47 L1387.75,360.21 L1379.9,352.85 L1371.98,345.4 L1364.01,337.86 L1355.98,330.21 L1347.89,322.47 L1339.73,314.63 L1331.52,306.68 L1323.24,298.62 L1314.89,290.45 L1306.48,282.17 L1298,273.77 L1289.45,265.25 L1280.83,256.6 L1272.14,247.83 L1263.37,238.92 L1254.53,229.88 L1245.61,220.7 L1236.61,211.37 L1227.53,201.9 L1218.37,192.27 L1209.12,182.48 L1199.79,172.52 L1190.37,162.4 L1180.85,152.1 L1171.25,141.62 L1161.54,130.95 L1151.74,120.08 L1141.84,109.01 L1131.83,97.73 L1121.72,86.23 L1111.5,74.5 L1101.16,62.54" stroke="#FFB000"/>
<path d="M2228.52,930.01 L2224,927.21 L2219.47,924.4 L2214.92,921.57 L2210.36,918.73 L2205.79,915.88 L2201.2,913.01 L2196.6,910.13 L2191.98,907.23 L2187.35,904.32 L2182.71,901.4 L2178.05,898.46 L2173.38,895.51 L2168.69,892.54 L2163.99,889.55 L2159.27,886.55 L2154.54,883.54 L2149.79,880.51 L2145.03,877.47 L2140.25,874.41 L2135.46,871.33 L2130.65,868.24 L2125.83,865.13 L2120.99,862 L2116.13,858.86 L2111.26,855.7 L2106.37,852.53 L2101.47,849.33 L2096.55,846.12 L2091.61,842.9 L2086.66,839.65 L2081.68,836.39 L2076.7,833.11 L2071.69,829.81 L2066.67,826.49 L2061.63,823.15 L2056.57,819.8 L2051.49,816.42 L2046.4,813.03 L2041.29,809.62 L2036.16,806.18 L2031.01,802.73 L2025.84,799.26 L2020.66,795.76 L2015.45,792.25 L2010.23,788.71 L2004.99,785.16 L1999.72,781.58 L1994.44,777.98 L1989.14,774.35 L1983.82,770.71 L1978.48,767.04 L1973.11,763.35 L1967.73,759.64 L1962.32,755.9 L1956.9,752.14 L1951.45,748.36 L1945.98,744.55 L1940.49,740.72 L1934.98,736.86 L1929.45,732.98 L1923.89,729.07 L1918.31,725.13 L1912.71,721.17 L1907.09,717.18 L1901.44,713.17 L1895.77,709.12 L1890.07,705.05 L1884.35,700.96 L1878.61,696.83 L1872.84,692.67 L1867.05,688.49 L1861.23,684.27 L1855.39,680.03 L1849.52,675.75 L1843.62,671.44 L1837.7,667.1 L1831.75,662.73 L1825.78,658.33 L1819.78,653.89 L1813.75,649.42 L1807.69,644.92 L1801.6,640.38 L1795.49,635.81 L1789.35,631.2 L1783.18,626.56 L1776.98,621.87 L1770.75,617.15 L1764.48,612.4 L1758.19,607.6 L1751.87,602.77 L1745.52,597.89 L1739.13,592.98 L1732.71,588.02 L1726.26,583.03 L1719.78,577.98 L1713.26,572.9 L1706.71,567.77 L1700.13,562.6 L1693.51,557.38 L1686.85,552.12 L1680.16,546.81 L1673.43,541.45 L1666.67,536.04 L1659.87,530.58 L1653.03,525.07 L1646.15,519.51 L1639.24,513.9 L1632.28,508.23 L1625.28,502.51 L1618.25,496.73 L1611.17,490.9 L1604.05,485 L1596.89,479.05 L1589.69,473.04 L1582.44,466.96 L1575.15,460.83 L1567.81,454.63 L1560.43,448.36 L1552.99,442.02 L1545.52,435.62 L1537.99,429.15 L1530.42,422.6 L1522.79,415.99 L1515.12,409.3 L1507.39,402.53 L1499.61,395.68 L1491.78,388.75 L1483.9,381.75 L1475.95,374.65 L1467.96,367.47 L1459.9,360.21 L1451.79,352.85 L1443.62,345.4 L1435.38,337.86 L1427.09,330.21 L1418.73,322.47 L1410.31,314.63 L1401.83,306.68 L1393.27,298.62 L1384.65,290.45 L1375.96,282.17 L1367.2,273.77 L1358.37,265.25 L1349.46,256.6 L1340.48,247.83 L1331.42,238.92 L1322.28,229.88 L1313.06,220.7 L1303.76,211.37 L1294.38,201.9 L1284.9,192.27 L1275.34,182.48 L1265.69,172.52 L1255.95,162.4 L1246.11,152.1 L1236.17,141.62 L1226.14,130.95 L1216,120.08 L1205.75,109.01 L1195.4,97.73 L1184.94,86.23 L1174.36,74.5 L1163.66,62.54" stroke="#FFB000"/>
<path d="M480.57,930.01 L479.47,924.4 L478.35,918.73 L477.21,913.01 L476.03,907.23 L474.83,901.4 L473.6,895.51 L472.18,889.55 L470.72,883.54 L469.24,877.47 L467.71,871.33 L466.16,865.13 L464.57,858.86 L462.94,852.53 L461.28,846.12 L459.58,839.65 L457.85,833.11 L456.08,826.49 L454.27,819.8 L452.42,813.03 L450.53,806.18 L448.6,799.26 L446.63,792.25 L444.62,785.16 L442.56,777.98 L440.45,770.71 L438.29,763.35 L436.08,755.9 L433.8,748.36 L431.47,740.72 L429.06,732.98 L426.59,725.13 L424.04,717.18 L421.41,709.12 L418.7,700.96 L415.9,692.67 L413,684.27 L410,675.75 L406.91,667.1 L403.7,658.33 L400.39,649.42 L396.97,640.38 L393.43,631.2 L389.78,621.87 L386.01,612.4 L382.12,602.77 L378.11,592.98 L373.98,583.03 L369.71,572.9 L365.32,562.6 L360.81,552.12 L356.16,541.45 L351.38,530.58 L346.48,519.51 L341.45,508.23 L336.29,496.73 L331,485 L325.59,473.04 L320.06,460.83 L314.4,448.36 L308.61,435.62 L302.68,422.6 L296.63,409.3 L290.43,395.68 L284.1,381.75 L277.62,367.47 L271,352.85 L264.23,337.86 L257.31,322.47 L250.23,306.68 L243,290.45 L235.61,273.77 L228.05,256.6 L220.31,238.92 L212.4,220.7 L204.3,201.9 L196,182.48 L187.49,162.4 L178.77,141.62 L169.86,120.08 L160.76,97.73 L151.5,74.5 L146.75,62.54" stroke="#80DC00"/>
<path d="M515.35,930.01 L514.51,924.4 L513.65,918.73 L512.77,913.01 L511.87,907.23 L510.95,901.4 L510,895.51 L509.03,889.55 L508.04,883.54 L507.02,877.47 L505.97,871.33 L504.9,865.13 L503.8,858.86 L502.66,852.53 L501.5,846.12 L500.31,839.65 L499.08,833.11 L497.82,826.49 L496.52,819.8 L495.19,813.03 L493.81,806.18 L492.4,799.26 L490.95,792.25 L489.45,785.16 L487.9,777.98 L486.31,770.71 L484.67,763.35 L482.98,755.9 L481.23,748.36 L479.43,740.72 L477.57,732.98 L475.65,725.13 L473.66,717.18 L471.6,709.12 L469.48,700.96 L467.28,692.67 L465,684.27 L462.64,675.75 L460.2,667.1 L457.67,658.33 L455.05,649.42 L452.33,640.38 L449.51,631.2 L446.59,621.87 L443.56,612.4 L440.41,602.77 L437.15,592.98 L433.77,583.03 L430.26,572.9 L426.61,562.6 L422.83,552.12 L418.91,541.45 L414.84,530.58 L410.62,519.51 L406.24,508.23 L401.7,496.73 L397,485 L392.13,473.04 L387.08,460.83 L381.85,448.36 L376.44,435.62 L370.84,422.6 L365.06,409.3 L359.09,395.68 L352.92,381.75 L346.56,367.47 L340,352.85 L333.25,337.86 L326.3,322.47 L319.16,306.68 L311.82,290.45 L304.28,273.77 L296.53,256.6 L288.59,238.92 L280.43,220.7 L272.07,201.9 L263.5,182.48 L254.71,162.4 L245.71,141.62 L236.5,120.08 L227.09,97.73 L217.5,74.5 L212.43,62.54" stroke="#80DC00"/>
<path d="M551.84,930.01 L551.24,924.4 L550.62,918.73 L549.99,913.01 L549.35,907.23 L548.68,901.4 L548,895.51 L547.25,889.55 L546.47,883.54 L545.68,877.47 L544.87,871.33 L544.03,865.13 L543.18,858.86 L542.3,852.53 L541.4,846.12 L540.48,839.65 L539.53,833.11 L538.56,826.49 L537.56,819.8 L536.54,813.03 L535.48,806.18 L534.4,799.26 L533.29,792.25 L532.14,785.16 L530.96,777.98 L529.75,770.71 L528.5,763.35 L527.22,755.9 L525.89,748.36 L524.52,740.72 L523.11,732.98 L521.66,725.13 L520.15,717.18 L518.6,709.12 L516.99,700.96 L515.32,692.67 L513.6,684.27 L511.82,675.75 L509.97,667.1 L508.05,658.33 L506.06,649.42 L504,640.38 L501.86,631.2 L499.63,621.87 L497.32,612.4 L494.92,602.77 L492.42,592.98 L489.82,583.03 L487.12,572.9 L484.31,562.6 L481.38,552.12 L478.32,541.45 L475.14,530.58 L471.82,519.51 L468.37,508.23 L464.76,496.73 L461,485 L457.08,473.04 L452.98,460.83 L448.71,448.36 L444.25,435.62 L439.59,422.6 L434.72,409.3 L429.64,395.68 L424.33,381.75 L418.79,367.47 L413,352.85 L406.96,337.86 L400.67,322.47 L394.1,306.68 L387.26,290.45 L380.14,273.77 L372.73,256.6 L365.01,238.92 L356.99,220.7 L348.66,201.9 L340,182.48 L331.01,162.4 L321.71,141.62 L312.09,120.08 L302.18,97.73 L292,74.5 L286.63,62.54" stroke="#80DC00"/>
<path d="M588.08,930.01 L587.69,924.4 L587.29,918.73 L586.89,913.01 L586.47,907.23 L586.04,901.4 L585.6,895.51 L585.05,889.55 L584.49,883.54 L583.91,877.47 L583.33,871.33 L582.72,865.13 L582.11,858.86 L581.48,852.53 L580.84,846.12 L580.19,839.65 L579.52,833.11 L578.84,826.49 L578.15,819.8 L577.45,813.03 L576.73,806.18 L576,799.26 L575.26,792.25 L574.5,785.16 L573.73,777.98 L572.94,770.71 L572.14,763.35 L571.32,755.9 L570.49,748.36 L569.63,740.72 L568.76,732.98 L567.86,725.13 L566.94,717.18 L565.99,709.12 L565.02,700.96 L564.03,692.67 L563,684.27 L561.94,675.75 L560.85,667.1 L559.72,658.33 L558.54,649.42 L557.32,640.38 L556.05,631.2 L554.71,621.87 L553.32,612.4 L551.85,602.77 L550.3,592.98 L548.67,583.03 L546.95,572.9 L545.13,562.6 L543.19,552.12 L541.13,541.45 L538.94,530.58 L536.61,519.51 L534.12,508.23 L531.45,496.73 L528.6,485 L525.55,473.04 L522.28,460.83 L518.79,448.36 L515.08,435.62 L511.13,422.6 L506.94,409.3 L502.5,395.68 L497.8,381.75 L492.83,367.47 L487.6,352.85 L482.09,337.86 L476.3,322.47 L470.22,306.68 L463.85,290.45 L457.19,273.77 L450.24,256.6 L443,238.92 L435.49,220.7 L427.71,201.9 L419.7,182.48 L411.47,162.4 L403,141.62 L394.29,120.08 L385.3,97.73 L376,74.5 L370.47,62.54" stroke="#80DC00"/>
<path d="M624.77,930.01 L624.57,924.4 L624.37,918.73 L624.16,913.01 L623.95,907.23 L623.73,901.4 L623.5,895.51 L623.07,889.55 L622.63,883.54 L622.18,877.47 L621.73,871.33 L621.27,865.13 L620.8,858.86 L620.33,852.53 L619.86,846.12 L619.39,839.65 L618.92,833.11 L618.45,826.49 L617.98,819.8 L617.51,813.03 L617.05,806.18 L616.6,799.26 L616.16,792.25 L615.72,785.16 L615.29,777.98 L614.87,770.71 L614.44,763.35 L614.03,755.9 L613.61,748.36 L613.19,740.72 L612.76,732.98 L612.33,725.13 L611.89,717.18 L611.45,709.12 L610.98,700.96 L610.5,692.67 L610,684.27 L609.48,675.75 L608.92,667.1 L608.34,658.33 L607.73,649.42 L607.09,640.38 L606.4,631.2 L605.67,621.87 L604.9,612.4 L604.08,602.77 L603.21,592.98 L602.28,583.03 L601.28,572.9 L600.21,562.6 L599.07,552.12 L597.85,541.45 L596.53,530.58 L595.12,519.51 L593.6,508.23 L591.96,496.73 L590.2,485 L588.3,473.04 L586.25,460.83 L584.04,448.36 L581.67,435.62 L579.12,422.6 L576.37,409.3 L573.42,395.68 L570.26,381.75 L566.85,367.47 L563.2,352.85 L559.28,337.86 L555.07,322.47 L550.57,306.68 L545.75,290.45 L540.61,273.77 L535.12,256.6 L529.28,238.92 L523.07,220.7 L516.48,201.9 L509.5,182.48 L502.13,162.4 L494.34,141.62 L486.08,120.08 L477.32,97.73 L468,74.5 L462.77,62.54" stroke="#80DC00"/>
<path d="M661.23,930.01 L661.19,924.4 L661.16,918.73 L661.12,913.01 L661.09,907.23 L661.04,901.4 L661,895.51 L660.73,889.55 L660.46,883.54 L660.19,877.47 L659.91,871.33 L659.63,865.13 L659.36,858.86 L659.08,852.53 L658.8,846.12 L658.52,839.65 L658.25,833.11 L657.99,826.49 L657.73,819.8 L657.47,813.03 L657.23,806.18 L657,799.26 L656.78,792.25 L656.57,785.16 L656.38,777.98 L656.19,770.71 L656.02,763.35 L655.85,755.9 L655.68,748.36 L655.53,740.72 L655.37,732.98 L655.22,725.13 L655.06,717.18 L654.91,709.12 L654.75,700.96 L654.58,692.67 L654.4,684.27 L654.21,675.75 L654.01,667.1 L653.79,658.33 L653.55,649.42 L653.3,640.38 L653.03,631.2 L652.74,621.87 L652.43,612.4 L652.1,602.77 L651.74,592.98 L651.36,583.03 L650.95,572.9 L650.5,562.6 L650.03,552.12 L649.52,541.45 L648.96,530.58 L648.37,519.51 L647.73,508.23 L647.04,496.73 L646.3,485 L645.5,473.04 L644.62,460.83 L643.67,448.36 L642.62,435.62 L641.45,422.6 L640.16,409.3 L638.73,395.68 L637.12,381.75 L635.32,367.47 L633.3,352.85 L631.03,337.86 L628.51,322.47 L625.72,306.68 L622.66,290.45 L619.32,273.77 L615.69,256.6 L611.77,238.92 L607.55,220.7 L603.03,201.9 L598.2,182.48 L593.06,162.4 L587.55,141.62 L581.59,120.08 L575.11,97.73 L568,74.5 L563.91,62.54" stroke="#80DC00"/>
<path d="M695.34,930.01 L695.45,924.4 L695.56,918.73 L695.67,913.01 L695.78,907.23 L695.89,901.4 L696,895.51 L696.11,889.55 L696.23,883.54 L696.34,877.47 L696.45,871.33 L696.56,865.13 L696.67,858.86 L696.78,852.53 L696.88,846.12 L696.97,839.65 L697.06,833.11 L697.15,826.49 L697.22,819.8 L697.29,813.03 L697.35,806.18 L697.4,799.26 L697.44,792.25 L697.46,785.16 L697.48,777.98 L697.49,770.71 L697.49,763.35 L697.48,755.9 L697.47,748.36 L697.45,740.72 L697.44,732.98 L697.42,725.13 L697.4,717.18 L697.39,709.12 L697.39,700.96 L697.39,692.67 L697.4,684.27 L697.43,675.75 L697.46,667.1 L697.51,658.33 L697.57,649.42 L697.65,640.38 L697.73,631.2 L697.82,621.87 L697.92,612.4 L698.03,602.77 L698.14,592.98 L698.25,583.03 L698.37,572.9 L698.49,562.6 L698.6,552.12 L698.71,541.45 L698.82,530.58 L698.91,519.51 L698.99,508.23 L699.06,496.73 L699.1,485 L699.12,473.04 L699.1,460.83 L699.06,448.36 L698.96,435.62 L698.83,422.6 L698.63,409.3 L698.37,395.68 L698.04,381.75 L697.62,367.47 L697.1,352.85 L696.47,337.86 L695.73,322.47 L694.85,306.68 L693.82,290.45 L692.64,273.77 L691.28,256.6 L689.73,238.92 L687.97,220.7 L685.97,201.9 L683.7,182.48 L681.14,162.4 L678.24,141.62 L674.95,120.08 L671.23,97.73 L667,74.5 L664.66,62.54" stroke="#80DC00"/>
</g>
<g clip-path="url(#cp)" fill="none" stroke-width="1" stroke-dasharray="4 5" shape-rendering="crispEdges">
<path d="M238.69,895.51 L240.59,889.55 L242.5,883.54 L244.44,877.47 L246.4,871.33 L248.38,865.13 L250.39,858.86 L252.41,852.53 L254.46,846.12 L256.53,839.65 L258.63,833.11 L260.75,826.49 L262.9,819.8 L265.08,813.03 L267.28,806.18 L269.5,799.26 L271.76,792.25 L274.04,785.16 L276.36,777.98 L278.7,770.71 L281.08,763.35 L283.48,755.9 L285.92,748.36 L288.39,740.72 L290.9,732.98 L293.44,725.13 L296.02,717.18 L298.63,709.12 L301.29,700.96 L303.98,692.67 L306.71,684.27 L309.49,675.75 L312.3,667.1 L315.16,658.33 L318.07,649.42 L321.02,640.38 L324.03,631.2 L327.08,621.87 L330.18,612.4 L333.34,602.77 L336.55,592.98 L339.82,583.03 L343.15,572.9 L346.54,562.6 L349.99,552.12 L353.51,541.45 L357.09,530.58 L360.75,519.51 L364.48,508.23 L368.29,496.73 L372.17,485 L376.14,473.04 L380.2,460.83 L384.34,448.36 L388.58,435.62 L392.92,422.6 L397.36,409.3 L401.91,395.68 L406.57,381.75 L411.34,367.47 L416.25,352.85" stroke="#80DC00"/>
<path d="M318.52,895.51 L320.34,889.55 L322.17,883.54 L324.02,877.47 L325.89,871.33 L327.78,865.13 L329.69,858.86 L331.63,852.53 L333.59,846.12 L335.57,839.65 L337.57,833.11 L339.6,826.49 L341.65,819.8 L343.73,813.03 L345.84,806.18 L347.97,799.26 L350.12,792.25 L352.31,785.16 L354.52,777.98 L356.76,770.71 L359.04,763.35 L361.34,755.9 L363.67,748.36 L366.04,740.72 L368.44,732.98 L370.87,725.13 L373.34,717.18 L375.84,709.12 L378.38,700.96 L380.96,692.67 L383.58,684.27 L386.24,675.75 L388.94,667.1 L391.68,658.33 L394.46,649.42 L397.3,640.38 L400.17,631.2 L403.1,621.87 L406.08,612.4 L409.1,602.77 L412.19,592.98 L415.32,583.03 L418.52,572.9 L421.77,562.6 L425.08,552.12 L428.46,541.45 L431.9,530.58 L435.42,519.51 L439,508.23 L442.66,496.73 L446.39,485 L450.2,473.04 L454.1,460.83 L458.09,448.36 L462.16,435.62 L466.33,422.6 L470.6,409.3 L474.98,395.68 L479.46,381.75 L484.06,367.47 L488.78,352.85" stroke="#80DC00"/>
<path d="M368,895.51 L369.76,889.55 L371.53,883.54 L373.33,877.47 L375.14,871.33 L376.98,865.13 L378.83,858.86 L380.71,852.53 L382.61,846.12 L384.53,839.65 L386.48,833.11 L388.45,826.49 L390.44,819.8 L392.46,813.03 L394.5,806.18 L396.57,799.26 L398.66,792.25 L400.78,785.16 L402.93,777.98 L405.11,770.71 L407.31,763.35 L409.55,755.9 L411.82,748.36 L414.12,740.72 L416.45,732.98 L418.81,725.13 L421.21,717.18 L423.64,709.12 L426.11,700.96 L428.62,692.67 L431.16,684.27 L433.75,675.75 L436.37,667.1 L439.04,658.33 L441.75,649.42 L444.5,640.38 L447.3,631.2 L450.14,621.87 L453.04,612.4 L455.99,602.77 L458.98,592.98 L462.04,583.03 L465.14,572.9 L468.31,562.6 L471.54,552.12 L474.82,541.45 L478.18,530.58 L481.6,519.51 L485.09,508.23 L488.65,496.73 L492.29,485 L496,473.04 L499.8,460.83 L503.68,448.36 L507.65,435.62 L511.72,422.6 L515.88,409.3 L520.15,395.68 L524.52,381.75 L529,367.47 L533.61,352.85" stroke="#80DC00"/>
<path d="M433.44,895.51 L435.13,889.55 L436.83,883.54 L438.54,877.47 L440.28,871.33 L442.04,865.13 L443.82,858.86 L445.62,852.53 L447.44,846.12 L449.28,839.65 L451.15,833.11 L453.03,826.49 L454.94,819.8 L456.88,813.03 L458.84,806.18 L460.82,799.26 L462.83,792.25 L464.86,785.16 L466.93,777.98 L469.02,770.71 L471.13,763.35 L473.28,755.9 L475.46,748.36 L477.66,740.72 L479.9,732.98 L482.17,725.13 L484.48,717.18 L486.81,709.12 L489.19,700.96 L491.59,692.67 L494.04,684.27 L496.52,675.75 L499.05,667.1 L501.61,658.33 L504.21,649.42 L506.86,640.38 L509.55,631.2 L512.29,621.87 L515.08,612.4 L517.91,602.77 L520.8,592.98 L523.74,583.03 L526.73,572.9 L529.78,562.6 L532.88,552.12 L536.05,541.45 L539.28,530.58 L542.58,519.51 L545.94,508.23 L549.37,496.73 L552.88,485 L556.46,473.04 L560.12,460.83 L563.87,448.36 L567.7,435.62 L571.62,422.6 L575.64,409.3 L579.76,395.68 L583.98,381.75 L588.31,367.47 L592.75,352.85" stroke="#80DC00"/>
<path d="M496.87,895.51 L498.47,889.55 L500.1,883.54 L501.74,877.47 L503.4,871.33 L505.09,865.13 L506.79,858.86 L508.51,852.53 L510.25,846.12 L512.01,839.65 L513.8,833.11 L515.6,826.49 L517.43,819.8 L519.28,813.03 L521.16,806.18 L523.06,799.26 L524.98,792.25 L526.93,785.16 L528.91,777.98 L530.91,770.71 L532.94,763.35 L535,755.9 L537.08,748.36 L539.2,740.72 L541.34,732.98 L543.52,725.13 L545.73,717.18 L547.97,709.12 L550.25,700.96 L552.56,692.67 L554.91,684.27 L557.29,675.75 L559.71,667.1 L562.17,658.33 L564.67,649.42 L567.22,640.38 L569.8,631.2 L572.43,621.87 L575.11,612.4 L577.84,602.77 L580.61,592.98 L583.43,583.03 L586.31,572.9 L589.24,562.6 L592.23,552.12 L595.28,541.45 L598.38,530.58 L601.56,519.51 L604.79,508.23 L608.1,496.73 L611.47,485 L614.92,473.04 L618.45,460.83 L622.06,448.36 L625.75,435.62 L629.53,422.6 L633.4,409.3 L637.37,395.68 L641.44,381.75 L645.62,367.47 L649.91,352.85" stroke="#80DC00"/>
<path d="M554.12,895.51 L555.66,889.55 L557.22,883.54 L558.79,877.47 L560.38,871.33 L561.99,865.13 L563.62,858.86 L565.27,852.53 L566.94,846.12 L568.63,839.65 L570.34,833.11 L572.07,826.49 L573.82,819.8 L575.6,813.03 L577.4,806.18 L579.22,799.26 L581.06,792.25 L582.93,785.16 L584.83,777.98 L586.75,770.71 L588.7,763.35 L590.67,755.9 L592.68,748.36 L594.71,740.72 L596.77,732.98 L598.86,725.13 L600.98,717.18 L603.13,709.12 L605.32,700.96 L607.54,692.67 L609.8,684.27 L612.09,675.75 L614.42,667.1 L616.78,658.33 L619.19,649.42 L621.64,640.38 L624.12,631.2 L626.66,621.87 L629.23,612.4 L631.85,602.77 L634.52,592.98 L637.24,583.03 L640.01,572.9 L642.84,562.6 L645.72,552.12 L648.65,541.45 L651.65,530.58 L654.7,519.51 L657.82,508.23 L661.01,496.73 L664.27,485 L667.59,473.04 L671,460.83 L674.48,448.36 L678.04,435.62 L681.69,422.6 L685.43,409.3 L689.26,395.68 L693.2,381.75 L697.23,367.47 L701.38,352.85" stroke="#80DC00"/>
<path d="M629.6,895.51 L631.04,889.55 L632.51,883.54 L633.99,877.47 L635.48,871.33 L637,865.13 L638.53,858.86 L640.08,852.53 L641.65,846.12 L643.24,839.65 L644.85,833.11 L646.48,826.49 L648.13,819.8 L649.8,813.03 L651.5,806.18 L653.21,799.26 L654.95,792.25 L656.71,785.16 L658.5,777.98 L660.31,770.71 L662.15,763.35 L664.01,755.9 L665.9,748.36 L667.82,740.72 L669.76,732.98 L671.74,725.13 L673.74,717.18 L675.78,709.12 L677.84,700.96 L679.94,692.67 L682.07,684.27 L684.24,675.75 L686.44,667.1 L688.68,658.33 L690.96,649.42 L693.27,640.38 L695.63,631.2 L698.03,621.87 L700.47,612.4 L702.95,602.77 L705.48,592.98 L708.06,583.03 L710.68,572.9 L713.36,562.6 L716.09,552.12 L718.88,541.45 L721.72,530.58 L724.62,519.51 L727.59,508.23 L730.61,496.73 L733.71,485 L736.87,473.04 L740.11,460.83 L743.42,448.36 L746.81,435.62 L750.28,422.6 L753.84,409.3 L757.49,395.68 L761.23,381.75 L765.08,367.47 L769.03,352.85" stroke="#80DC00"/>
</g>
<path d="M69.5,74.5 H720.5 V353.5 L866.5,615.5 V924.5 H69.5 Z" fill="none" stroke="#000" stroke-width="1" shape-rendering="crispEdges"/>
<path d="M70,895.5 H72" stroke="#000" stroke-width="1" shape-rendering="crispEdges"/>
<rect x="69" y="114" width="2" height="739" fill="#00B400"/>
<path d="M103.5,924 V934" stroke="#000" shape-rendering="crispEdges"/>
<path d="M197.5,924 V934" stroke="#000" shape-rendering="crispEdges"/>
<path d="M290.5,924 V934" stroke="#000" shape-rendering="crispEdges"/>
<path d="M384.5,924 V934" stroke="#000" shape-rendering="crispEdges"/>
<path d="M477.5,924 V934" stroke="#000" shape-rendering="crispEdges"/>
<path d="M570.5,924 V934" stroke="#000" shape-rendering="crispEdges"/>
<path d="M664.5,924 V934" stroke="#000" shape-rendering="crispEdges"/>
<path d="M757.5,924 V934" stroke="#000" shape-rendering="crispEdges"/>
<path d="M314.4,114.4 L319.8,132.4 L327,157.6 L332.4,179.2 L336,193.6 L345,211.6 L354,231.4 L366.6,251.2 L373.8,263.8 L380,280.8 L388,303.2 L388.8,308 L388,333.6 L387.2,356 L380,368.8 L368.8,386.4 L354.4,407.2 L289.3,458.8 L148.9,539.8 L146.2,570.9 L174.5,598.6 L230,640 L260,659.5 L278,673 L290,683.5 L297.5,697 L303.5,715 L320,742 L323,746.5 L323.6,760 L341,779.5 L346.4,788.5 L345.5,803.5 L344,826 L345,844 L351.5,851.5 L364.4,852.4" fill="none" stroke="#0A64FF" stroke-width="2.7" stroke-linejoin="round"/>
<path d="M365.4,114.4 L378,145 L391.5,181 L410.4,226 L419.4,249.4 L429.3,280 L440,306 L454,350 L470,394 L484,430 L495,470 L505.2,501.4 L512.4,528.4 L518.7,553.6 L525,582.4 L530.4,602.2 L533.6,620 L534.5,631 L538.8,647 L544.2,668.6 L548.7,684.8 L555,701 L563.1,720.8 L570.3,737 L575.2,751.4 L574.4,764 L574.4,778.4 L578.4,785.6 L588.6,802.9 L604,821.6 L615,834.8 L621.6,843.6 L626,848 L634.8,852.4" fill="none" stroke="#FF0000" stroke-width="2.7" stroke-linejoin="round"/>
<path d="M575,779 L636.5,852" fill="none" stroke="#70005A" stroke-width="2" stroke-dasharray="11 6" stroke-dashoffset="9"/>
<circle cx="413" cy="853" r="3.6" fill="#0A64FF"/>
<circle cx="642" cy="853" r="4.2" fill="#FF0000"/>
<path d="M815.5,74 V902.5" stroke="#000" stroke-width="1" fill="none" shape-rendering="crispEdges"/>
<path d="M813.5,149.6 L803,155 L813.5,155 Z" fill="#000"/>
<path d="M815,792 L816.5,792 L820.5,845 L815,845 Z" fill="#000"/>
<path d="M814.5,114.8 L813.5,154.8 M814.5,155 L814.5,190.8 M814,176 L809,178.4 M814.5,180.4 L804.5,184.8 M814.5,183.6 L804.5,188 M814.5,187.6 L804.5,192 M814.5,190.8 L804.5,195.2 M815,190 L815,228.4 M815,218 L805.2,223.4 M815,221.2 L805.2,226.6 M815,225.2 L805.2,230.6 M815,228.4 L805.2,233.8 M814.5,225 L814.5,262.5 M814.5,252 L809.5,254.5 M814.5,255.5 L804.2,260.5 M814.5,259 L804.2,264 M814.5,262.5 L804.2,267.5 M815,265 L812.5,300 M813,293 L802,296.5 M813,296.5 L802,300 M813,300 L802,303.5 M815,308 L807.5,344 M808,336 L803,336 M807.5,340 L797,341.5 M807,343.5 L796,344.5 M815,358 L801,389.5 M802.5,386.5 L789,386.5 M801,389.5 L789,389.5 M815,409 L797,433.5 M798.5,431.5 L786,431 M796.8,434 L783.5,434 M815,459.5 L792.5,481.5 M792.5,481.5 L780,480.5 M794.65,479.4 L788.65,477.9 M815,504 L790,526.5 M790,526.5 L778,523.5 M792.23,524.49 L786.23,522.99 M815,541 L788.5,563 M788.5,563 L778,559.5 M790.81,561.08 L784.81,559.58 M815,573 L789.5,595 M789.5,595 L778,591.5 M791.77,593.04 L785.77,591.54 M815,598 L791.5,619.5 M791.5,619.5 L779,618 M793.71,617.47 L787.71,615.97 M815,617.5 L794,640.5 M794,640.5 L780,640.5 M796.02,638.28 L790.02,636.78 M815,633 L795,659 M795,659 L782,658.5 M796.83,656.62 L790.83,655.12 M815,648 L796.5,675 M796.5,675 L783,674.5 M815,661.5 L798,690.5 M798,690.5 L785,690.5 M815,674 L800,704 M800,704 L788,704 M815,686 L804,716 M804.8,713.5 L798.8,713.5 M815,697 L806,729 M806.8,726.5 L800.8,726.5 M815,708 L809,738 M809.8,735.5 L803.8,735.5 M815,719 L811,749 M811.8,746.5 L805.8,746.5 M815,728 L810,758 M810.8,755.5 L804.8,755.5 M815,737 L808,767 M808.8,764.5 L802.8,764.5 M815,746 L805,776 M805.8,773.5 L799.8,773.5 M815,753 L802,783 M802.8,780.5 L796.8,780.5 M815,762 L799,792 M799.8,789.5 L793.8,789.5 M815,770 L798,800 M798.8,797.5 L792.8,797.5 M815,782 L804,812 M804.8,809.5 L798.8,809.5 M815,792 L810,822 M810.8,819.5 L805.8,819.5 M815,800 L814,830 M814.8,827.5 L808.8,827.5 M815,807 L815,837 M815.8,834.5 L811.8,834.5 M815,813 L816,844 M816.8,841.5 L813.8,841.5 M815.3,815 L818,845 M818,842 L814,844 M815.3,822 L818.9,852 M818.9,849 L814.9,851 M815.3,829 L819.8,859 M819.8,856 L815.8,858 M815.3,836 L820.7,866 M820.7,863 L816.7,865 M815.3,843 L821.6,873 M821.6,870 L817.6,872 M815.3,850 L822.5,880 M822.5,877 L818.5,879 M815.3,856 L823.4,886 M823.4,883 L819.4,885" stroke="#000" stroke-width="1" fill="none" shape-rendering="crispEdges"/>
<rect x="918" y="74" width="2" height="851" fill="#000"/>
<path d="M920,902.5 H930" stroke="#000" stroke-width="1" shape-rendering="crispEdges"/>
<text x="942.5" y="910" font-size="18" fill="#000" stroke="#000" stroke-width="1.0">0</text>
<path d="M920,860.5 H930" stroke="#000" stroke-width="1" shape-rendering="crispEdges"/>
<text x="942.5" y="868" font-size="18" fill="#000" stroke="#000" stroke-width="1.0">2</text>
<path d="M920,816.5 H930" stroke="#000" stroke-width="1" shape-rendering="crispEdges"/>
<text x="942.5" y="824" font-size="18" fill="#000" stroke="#000" stroke-width="1.0">4</text>
<path d="M920,771.5 H930" stroke="#000" stroke-width="1" shape-rendering="crispEdges"/>
<text x="942.5" y="779" font-size="18" fill="#000" stroke="#000" stroke-width="1.0">6</text>
<path d="M920,727.5 H930" stroke="#000" stroke-width="1" shape-rendering="crispEdges"/>
<text x="942.5" y="735" font-size="18" fill="#000" stroke="#000" stroke-width="1.0">8</text>
<path d="M920,681.5 H930" stroke="#000" stroke-width="1" shape-rendering="crispEdges"/>
<text x="942.5" y="689" font-size="18" fill="#000" stroke="#000" stroke-width="1.0">10</text>
<path d="M920,635.5 H930" stroke="#000" stroke-width="1" shape-rendering="crispEdges"/>
<text x="942.5" y="643" font-size="18" fill="#000" stroke="#000" stroke-width="1.0">12</text>
<path d="M920,588.5 H930" stroke="#000" stroke-width="1" shape-rendering="crispEdges"/>
<text x="942.5" y="596" font-size="18" fill="#000" stroke="#000" stroke-width="1.0">14</text>
<path d="M920,540.5 H930" stroke="#000" stroke-width="1" shape-rendering="crispEdges"/>
<text x="942.5" y="548" font-size="18" fill="#000" stroke="#000" stroke-width="1.0">16</text>
<path d="M920,491.5 H930" stroke="#000" stroke-width="1" shape-rendering="crispEdges"/>
<text x="942.5" y="499" font-size="18" fill="#000" stroke="#000" stroke-width="1.0">18</text>
<path d="M920,442.5 H930" stroke="#000" stroke-width="1" shape-rendering="crispEdges"/>
<text x="942.5" y="450" font-size="18" fill="#000" stroke="#000" stroke-width="1.0">20</text>
<path d="M920,392.5 H930" stroke="#000" stroke-width="1" shape-rendering="crispEdges"/>
<text x="942.5" y="400" font-size="18" fill="#000" stroke="#000" stroke-width="1.0">22</text>
<path d="M920,341.5 H930" stroke="#000" stroke-width="1" shape-rendering="crispEdges"/>
<text x="942.5" y="349" font-size="18" fill="#000" stroke="#000" stroke-width="1.0">24</text>
<path d="M920,290.5 H930" stroke="#000" stroke-width="1" shape-rendering="crispEdges"/>
<text x="942.5" y="298" font-size="18" fill="#000" stroke="#000" stroke-width="1.0">26</text>
<path d="M920,237.5 H930" stroke="#000" stroke-width="1" shape-rendering="crispEdges"/>
<text x="942.5" y="245" font-size="18" fill="#000" stroke="#000" stroke-width="1.0">28</text>
<path d="M920,184.5 H930" stroke="#000" stroke-width="1" shape-rendering="crispEdges"/>
<text x="942.5" y="192" font-size="18" fill="#000" stroke="#000" stroke-width="1.0">30</text>
<path d="M920,129.5 H930" stroke="#000" stroke-width="1" shape-rendering="crispEdges"/>
<text x="942.5" y="137" font-size="18" fill="#000" stroke="#000" stroke-width="1.0">32</text>
<text x="886.5" y="499.5" font-size="19" fill="#000" text-anchor="middle" textLength="159" lengthAdjust="spacingAndGlyphs" transform="rotate(90 886.5 499.5)" stroke="#000" stroke-width="0.9">Height (1000 Feet)</text>
<path d="M946.4,114.3 L933,153 L919.3,192.4 L904,229 L889.6,265 L876.4,320 L870,360 L862.5,405 L859.5,435 L858,480 L857.4,540 L857,585 L856.4,600.8 L853.7,617 L847.4,644 L837.5,671 L832.5,683.7 L833,698 L832,712.5 L828.5,727 L826.7,737.7 L827.2,752 L826.7,770 L825.5,790 L826.6,805 L826.6,850 L824.6,852" fill="none" stroke="#00B400" stroke-width="1" shape-rendering="crispEdges"/>
<text x="0" y="0" font-size="13" fill="#FFB000" text-anchor="middle" dominant-baseline="central" textLength="17" lengthAdjust="spacingAndGlyphs" transform="translate(80 176.8) rotate(58)">10</text>
<text x="0" y="0" font-size="13" fill="#FFB000" text-anchor="middle" dominant-baseline="central" transform="translate(80.4 342) rotate(58)">0</text>
<text x="0" y="0" font-size="13" fill="#FFB000" text-anchor="middle" dominant-baseline="central" textLength="24" lengthAdjust="spacingAndGlyphs" transform="translate(81.5 506) rotate(58)">-10</text>
<text x="0" y="0" font-size="13" fill="#FFB000" text-anchor="middle" dominant-baseline="central" textLength="24" lengthAdjust="spacingAndGlyphs" transform="translate(81 663) rotate(58)">-20</text>
<text x="0" y="0" font-size="13" fill="#FFB000" text-anchor="middle" dominant-baseline="central" textLength="24" lengthAdjust="spacingAndGlyphs" transform="translate(80 827.5) rotate(58)">-30</text>
<text x="0" y="0" font-size="19" fill="#FFB000" text-anchor="middle" dominant-baseline="central" transform="translate(732.5 243) rotate(-45)">0</text>
<text x="0" y="0" font-size="19" fill="#FFB000" text-anchor="middle" dominant-baseline="central" textLength="23" lengthAdjust="spacingAndGlyphs" transform="translate(756 380) rotate(-45)">10</text>
<text x="0" y="0" font-size="19" fill="#FFB000" text-anchor="middle" dominant-baseline="central" textLength="23" lengthAdjust="spacingAndGlyphs" transform="translate(804 469.5) rotate(-45)">20</text>
<text x="0" y="0" font-size="19" fill="#FFB000" text-anchor="middle" dominant-baseline="central" textLength="23" lengthAdjust="spacingAndGlyphs" transform="translate(853 555.5) rotate(-45)">30</text>
<text x="0" y="0" font-size="14" fill="#80DC00" text-anchor="middle" dominant-baseline="central" transform="translate(235.4 909.3) rotate(-68)">1</text>
<text x="0" y="0" font-size="14" fill="#80DC00" text-anchor="middle" dominant-baseline="central" transform="translate(314.6 909.5) rotate(-68)">2</text>
<text x="0" y="0" font-size="14" fill="#80DC00" text-anchor="middle" dominant-baseline="central" transform="translate(363 908) rotate(-68)">3</text>
<text x="0" y="0" font-size="14" fill="#80DC00" text-anchor="middle" dominant-baseline="central" transform="translate(428 909) rotate(-68)">5</text>
<text x="0" y="0" font-size="14" fill="#80DC00" text-anchor="middle" dominant-baseline="central" transform="translate(492.5 909.4) rotate(-68)">8</text>
<text x="0" y="0" font-size="14" fill="#80DC00" text-anchor="middle" dominant-baseline="central" transform="translate(550.2 910) rotate(-68)">12</text>
<text x="0" y="0" font-size="14" fill="#80DC00" text-anchor="middle" dominant-baseline="central" transform="translate(625 909) rotate(-68)">20</text>
<text x="32.5" y="49.3" font-size="23.5" fill="#000" textLength="159.5" lengthAdjust="spacingAndGlyphs" stroke="#000" stroke-width="1.0">#8: TouwsRiver</text>
<text x="200.5" y="46.5" font-size="13.5" fill="#000" textLength="182.5" lengthAdjust="spacingAndGlyphs" stroke="#000" stroke-width="0.8">-33.3308°,20.0256° (125,94)</text>
<text x="404.3" y="49.3" font-size="23.5" fill="#000" textLength="156.5" lengthAdjust="spacingAndGlyphs" stroke="#000" stroke-width="1.0">Valid 1400 LST</text>
<text x="570" y="47.3" font-size="18" fill="#000" textLength="59.5" lengthAdjust="spacingAndGlyphs" stroke="#000" stroke-width="0.9">(1200Z)</text>
<text x="637.5" y="49.3" font-size="23.5" fill="#000" textLength="171.5" lengthAdjust="spacingAndGlyphs" stroke="#000" stroke-width="1.0">SAT 2 Sep 2017</text>
<text x="815" y="47" font-size="17" fill="#000" textLength="142" lengthAdjust="spacingAndGlyphs" stroke="#000" stroke-width="0.8">[12hrFcst@0440z]</text>
<text x="324.8" y="71" font-size="15.5" fill="#A80040" textLength="341" lengthAdjust="spacingAndGlyphs" font-weight="bold">Plcl=620 Tlcl[C]=-10 Shox=12 Pwat[cm]=1 Cape[J]= 24</text>
<text x="60" y="71.3" font-size="13.5" fill="#00B400" textLength="19.5" lengthAdjust="spacingAndGlyphs" stroke="#00B400" stroke-width="0.5">0.0</text>
<text x="60" y="88.5" font-size="13.5" fill="#000" textLength="19.5" lengthAdjust="spacingAndGlyphs" stroke="#000" stroke-width="0.8">0.0</text>
<text x="94.5" y="71.3" font-size="13.5" fill="#00B400" textLength="19.5" lengthAdjust="spacingAndGlyphs" stroke="#00B400" stroke-width="0.5">0.5</text>
<text x="94.5" y="88.5" font-size="13.5" fill="#000" textLength="19.5" lengthAdjust="spacingAndGlyphs" stroke="#000" stroke-width="0.8">0.5</text>
<text x="129" y="71.3" font-size="13.5" fill="#00B400" textLength="19" lengthAdjust="spacingAndGlyphs" stroke="#00B400" stroke-width="0.5">1.0</text>
<text x="129" y="88.5" font-size="13.5" fill="#000" textLength="19" lengthAdjust="spacingAndGlyphs" stroke="#000" stroke-width="0.8">1.0</text>
<text x="60" y="924" font-size="13.5" fill="#00B400" textLength="19" lengthAdjust="spacingAndGlyphs" stroke="#00B400" stroke-width="0.5">0.0</text>
<text x="60" y="939" font-size="13.5" fill="#000" textLength="19" lengthAdjust="spacingAndGlyphs" stroke="#000" stroke-width="0.8">0.0</text>
<text x="95" y="924" font-size="13.5" fill="#00B400" textLength="19" lengthAdjust="spacingAndGlyphs" stroke="#00B400" stroke-width="0.5">0.5</text>
<text x="95" y="939" font-size="13.5" fill="#000" textLength="19" lengthAdjust="spacingAndGlyphs" stroke="#000" stroke-width="0.8">0.5</text>
<text x="129.5" y="924" font-size="13.5" fill="#00B400" textLength="18.5" lengthAdjust="spacingAndGlyphs" stroke="#00B400" stroke-width="0.5">1.0</text>
<text x="129.5" y="939" font-size="13.5" fill="#000" textLength="18.5" lengthAdjust="spacingAndGlyphs" stroke="#000" stroke-width="0.8">1.0</text>
<text x="157.5" y="924" font-size="14" fill="#00B400" textLength="114.5" lengthAdjust="spacingAndGlyphs" font-weight="bold">CloudWater (g/Kg)</text>
<text x="157.5" y="939" font-size="14" fill="#000" textLength="138.3" lengthAdjust="spacingAndGlyphs" stroke="#000" stroke-width="0.7">Grid-Scale Cloudiness</text>
<text x="56.5" y="82" font-size="19.5" fill="#000" text-anchor="end" stroke="#000" stroke-width="0.6">250</text>
<text x="56.5" y="190" font-size="19.5" fill="#000" text-anchor="end" stroke="#000" stroke-width="0.6">300</text>
<text x="56.5" y="360" font-size="19.5" fill="#000" text-anchor="end" stroke="#000" stroke-width="0.6">400</text>
<text x="56.5" y="493" font-size="19.5" fill="#000" text-anchor="end" stroke="#000" stroke-width="0.6">500</text>
<text x="56.5" y="692" font-size="19.5" fill="#000" text-anchor="end" stroke="#000" stroke-width="0.6">700</text>
<text x="56.5" y="807" font-size="19.5" fill="#000" text-anchor="end" stroke="#000" stroke-width="0.6">850</text>
<text x="56.5" y="903" font-size="19.5" fill="#000" text-anchor="end" stroke="#000" stroke-width="0.6">1000</text>
<text x="22.8" y="520" font-size="17" fill="#000" text-anchor="middle" textLength="56.5" lengthAdjust="spacingAndGlyphs" transform="rotate(-90 22.8 520)" stroke="#000" stroke-width="0.2">P (hPa)</text>
<text x="103.5" y="963" font-size="19.5" fill="#000" text-anchor="middle" stroke="#000" stroke-width="0.6">-30</text>
<text x="197.5" y="963" font-size="19.5" fill="#000" text-anchor="middle" stroke="#000" stroke-width="0.6">-20</text>
<text x="290.5" y="963" font-size="19.5" fill="#000" text-anchor="middle" stroke="#000" stroke-width="0.6">-10</text>
<text x="384.5" y="963" font-size="19.5" fill="#000" text-anchor="middle" stroke="#000" stroke-width="0.6">0</text>
<text x="477.5" y="963" font-size="19.5" fill="#000" text-anchor="middle" stroke="#000" stroke-width="0.6">10</text>
<text x="570.5" y="963" font-size="19.5" fill="#000" text-anchor="middle" stroke="#000" stroke-width="0.6">20</text>
<text x="664.5" y="963" font-size="19.5" fill="#000" text-anchor="middle" stroke="#000" stroke-width="0.6">30</text>
<text x="757.5" y="963" font-size="19.5" fill="#000" text-anchor="middle" stroke="#000" stroke-width="0.6">40</text>
<text x="494.4" y="986" font-size="16.5" fill="#000" text-anchor="middle" textLength="126.4" lengthAdjust="spacingAndGlyphs" stroke="#000" stroke-width="0.8">Temperature (C)</text>
<text x="815.3" y="90" font-size="13.5" fill="#00B400" text-anchor="middle" stroke="#00B400" stroke-width="0.4">0</text>
<text x="815.3" y="923.5" font-size="13.5" fill="#00B400" text-anchor="middle" stroke="#00B400" stroke-width="0.4">0</text>
<text x="867.5" y="90" font-size="13.5" fill="#00B400" text-anchor="middle" stroke="#00B400" stroke-width="0.4">20</text>
<text x="867.5" y="923.5" font-size="13.5" fill="#00B400" text-anchor="middle" stroke="#00B400" stroke-width="0.4">20</text>
<text x="919" y="90" font-size="13.5" fill="#00B400" text-anchor="middle" stroke="#00B400" stroke-width="0.4">40</text>
<text x="919" y="923.5" font-size="13.5" fill="#00B400" text-anchor="middle" stroke="#00B400" stroke-width="0.4">40</text>
<text x="971" y="90" font-size="13.5" fill="#00B400" text-anchor="middle" stroke="#00B400" stroke-width="0.4">60</text>
<text x="971" y="923.5" font-size="13.5" fill="#00B400" text-anchor="middle" stroke="#00B400" stroke-width="0.4">60</text>
<text x="869" y="939" font-size="14.5" fill="#00B400" text-anchor="middle" textLength="64" lengthAdjust="spacingAndGlyphs" font-weight="bold">Speed (kt)</text>
</svg>
</body></html>
